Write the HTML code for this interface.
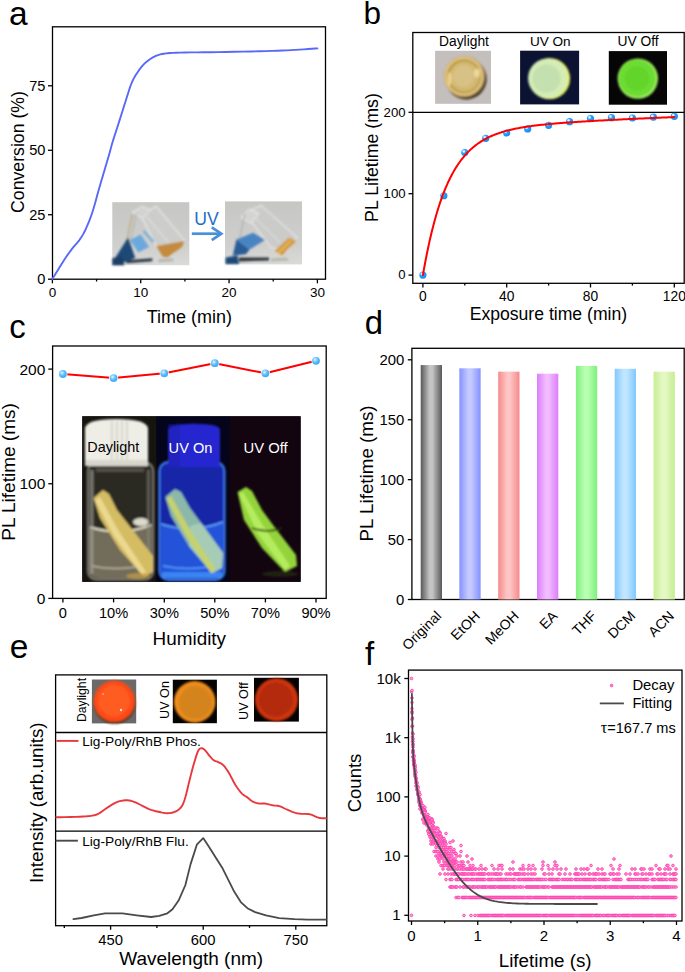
<!DOCTYPE html>
<html><head><meta charset="utf-8"><title>Figure</title>
<style>
html,body{margin:0;padding:0;background:#ffffff;}
body{width:685px;height:972px;overflow:hidden;}
svg{display:block;font-family:"Liberation Sans", sans-serif;}
</style></head><body>
<svg width="685" height="972" viewBox="0 0 685 972">
<rect width="685" height="972" fill="#ffffff"/>
<defs>
<filter id="bl1" x="-20%" y="-20%" width="140%" height="140%"><feGaussianBlur stdDeviation="1"/></filter>
<filter id="bl2" x="-30%" y="-30%" width="160%" height="160%"><feGaussianBlur stdDeviation="2"/></filter>
<filter id="bl3" x="-30%" y="-30%" width="160%" height="160%"><feGaussianBlur stdDeviation="3"/></filter>
<radialGradient id="mkb" cx="0.36" cy="0.33" r="0.62"><stop offset="0" stop-color="#ffffff"/><stop offset="0.2" stop-color="#c8e8ff"/><stop offset="0.42" stop-color="#2aa2ff"/><stop offset="1" stop-color="#168ef6"/></radialGradient>
<radialGradient id="mkc" cx="0.38" cy="0.35" r="0.6"><stop offset="0" stop-color="#e8f6ff"/><stop offset="0.35" stop-color="#8ed2ff"/><stop offset="0.7" stop-color="#4fb6fb"/><stop offset="1" stop-color="#46aef5"/></radialGradient>
<linearGradient id="bar0" x1="0" x2="1" y1="0" y2="0"><stop offset="0" stop-color="#585858"/><stop offset="0.42" stop-color="#c4c4c4"/><stop offset="0.55" stop-color="#c4c4c4"/><stop offset="1" stop-color="#585858"/></linearGradient>
<linearGradient id="bar1" x1="0" x2="1" y1="0" y2="0"><stop offset="0" stop-color="#8592ff"/><stop offset="0.42" stop-color="#c4caff"/><stop offset="0.55" stop-color="#c4caff"/><stop offset="1" stop-color="#8592ff"/></linearGradient>
<linearGradient id="bar2" x1="0" x2="1" y1="0" y2="0"><stop offset="0" stop-color="#f68a8a"/><stop offset="0.42" stop-color="#ffc6c6"/><stop offset="0.55" stop-color="#ffc6c6"/><stop offset="1" stop-color="#f68a8a"/></linearGradient>
<linearGradient id="bar3" x1="0" x2="1" y1="0" y2="0"><stop offset="0" stop-color="#dd7efc"/><stop offset="0.42" stop-color="#f2bcff"/><stop offset="0.55" stop-color="#f2bcff"/><stop offset="1" stop-color="#dd7efc"/></linearGradient>
<linearGradient id="bar4" x1="0" x2="1" y1="0" y2="0"><stop offset="0" stop-color="#7ef07e"/><stop offset="0.42" stop-color="#b8ffb0"/><stop offset="0.55" stop-color="#b8ffb0"/><stop offset="1" stop-color="#7ef07e"/></linearGradient>
<linearGradient id="bar5" x1="0" x2="1" y1="0" y2="0"><stop offset="0" stop-color="#80c8fc"/><stop offset="0.42" stop-color="#c0e6ff"/><stop offset="0.55" stop-color="#c0e6ff"/><stop offset="1" stop-color="#80c8fc"/></linearGradient>
<linearGradient id="bar6" x1="0" x2="1" y1="0" y2="0"><stop offset="0" stop-color="#c6ee92"/><stop offset="0.42" stop-color="#e4f8c4"/><stop offset="0.55" stop-color="#e4f8c4"/><stop offset="1" stop-color="#c6ee92"/></linearGradient>
</defs>
<text x="9.00" y="25.00" font-size="33.5" text-anchor="start" fill="#000" >a</text>
<g transform="translate(112.3,202.2)">
<defs><linearGradient id="pga0" x1="0" y1="0" x2="0" y2="1"><stop offset="0" stop-color="#c6c6c4"/><stop offset="0.7" stop-color="#cfcfcd"/><stop offset="1" stop-color="#dadad8"/></linearGradient></defs>
<rect width="77" height="63" fill="url(#pga0)"/>
<g filter="url(#bl1)">
<polygon points="28,12 44,4 72,38 60,52 44,44" fill="#cdcdcb" stroke="#e8e8e6" stroke-width="1.2"/>
<polyline points="34,14 56,40 M40,10 62,36 M46,8 68,34" fill="none" stroke="#ececea" stroke-width="0.8"/>
<polygon points="20,10 30,4 38,8 30,16" fill="#d2d2d0" stroke="#ececea" stroke-width="1"/>
<polyline points="12,52 20,12" stroke="#b8a46a" stroke-width="1.1" fill="none"/>
<polyline points="16,50 24,11" stroke="#a8a8a0" stroke-width="0.9" fill="none"/>
<polygon points="1.4,58 15.8,35.3 23,55.7 12,60" fill="#1d4a76"/>
<polygon points="0,56 10,54 12,63 0,63" fill="#1a3e66"/>
<polygon points="14,58 40,56 40,59 14,61" fill="#2a3848"/>
<polygon points="17.6,37.7 28.4,32.3 36.8,44.9 26,50.3" fill="#6aa8de"/>
<polygon points="30.2,29.3 32.6,28.1 42.1,38.9 40.3,40.7" fill="#78b0dc"/>
<polygon points="44,43.7 72.1,38.9 69.7,44.9 55.3,55.1 50.5,54.5" fill="#c48a3e"/>
<polygon points="46,57 60,56 62,59 46,60" fill="#b8b8b0"/>
</g>
</g>
<g transform="translate(225.0,201.4)">
<defs><linearGradient id="pga1" x1="0" y1="0" x2="0" y2="1"><stop offset="0" stop-color="#c6c6c4"/><stop offset="0.7" stop-color="#cfcfcd"/><stop offset="1" stop-color="#dadad8"/></linearGradient></defs>
<rect width="77" height="63" fill="url(#pga1)"/>
<g filter="url(#bl1)">
<polygon points="20,12 36,4 72,36 62,50 46,46" fill="#cbcbc9" stroke="#e6e6e4" stroke-width="1.2"/>
<polyline points="28,14 56,42 M34,10 62,38 M40,8 68,34" fill="none" stroke="#eaeae8" stroke-width="0.8"/>
<polygon points="16,16 24,8 34,12 26,22" fill="#d4d4d2" stroke="#eeeeec" stroke-width="1"/>
<polyline points="15,36 20,12" stroke="#a8a8a0" stroke-width="1" fill="none"/>
<polygon points="11.4,38 28.1,31.4 40.1,38.5 24.5,48.1" fill="#4a84c2"/>
<polygon points="7.8,54.1 11.4,38 24.5,48.1 20.9,52.9" fill="#2a5c96"/>
<polygon points="0.6,56 12.6,54 14,62.5 0.6,62.5" fill="#1e4878"/>
<polygon points="14,56 44,56 44,59 14,60" fill="#30363e"/>
<polygon points="49.7,49.3 64.0,36.2 71.2,39.7 56.9,54.1" fill="#d49a40"/>
<polygon points="52,51 65,38.5 67,39.5 54,52.5" fill="#e2b45a"/>
<polygon points="46,57 62,56 64,59 46,60" fill="#b8b8b0"/>
</g>
</g>
<text x="206.40" y="225.00" font-size="17.6" text-anchor="middle" fill="#1b6ec2" >UV</text>
<line x1="191.80" y1="233.70" x2="220.00" y2="233.70" stroke="#4a8fd8" stroke-width="2.7"/>
<path d="M211.8,227.3 L221.3,233.7 L211.8,240.1" fill="none" stroke="#4a8fd8" stroke-width="2.7" stroke-linejoin="miter"/>
<rect x="52.50" y="26.80" width="273.00" height="252.40" fill="none" stroke="#000" stroke-width="1.3"/>
<line x1="48.00" y1="279.20" x2="52.50" y2="279.20" stroke="#000" stroke-width="1.3"/>
<text x="45.40" y="284.30" font-size="14.6" text-anchor="end" fill="#000" >0</text>
<line x1="48.00" y1="214.73" x2="52.50" y2="214.73" stroke="#000" stroke-width="1.3"/>
<text x="45.40" y="219.83" font-size="14.6" text-anchor="end" fill="#000" >25</text>
<line x1="48.00" y1="150.27" x2="52.50" y2="150.27" stroke="#000" stroke-width="1.3"/>
<text x="45.40" y="155.37" font-size="14.6" text-anchor="end" fill="#000" >50</text>
<line x1="48.00" y1="85.80" x2="52.50" y2="85.80" stroke="#000" stroke-width="1.3"/>
<text x="45.40" y="90.90" font-size="14.6" text-anchor="end" fill="#000" >75</text>
<line x1="52.40" y1="279.20" x2="52.40" y2="283.30" stroke="#000" stroke-width="1.3"/>
<text x="52.40" y="296.80" font-size="13.5" text-anchor="middle" fill="#000" >0</text>
<line x1="140.73" y1="279.20" x2="140.73" y2="283.30" stroke="#000" stroke-width="1.3"/>
<text x="140.73" y="296.80" font-size="13.5" text-anchor="middle" fill="#000" >10</text>
<line x1="229.07" y1="279.20" x2="229.07" y2="283.30" stroke="#000" stroke-width="1.3"/>
<text x="229.07" y="296.80" font-size="13.5" text-anchor="middle" fill="#000" >20</text>
<line x1="317.40" y1="279.20" x2="317.40" y2="283.30" stroke="#000" stroke-width="1.3"/>
<text x="317.40" y="296.80" font-size="13.5" text-anchor="middle" fill="#000" >30</text>
<line x1="96.57" y1="279.20" x2="96.57" y2="281.50" stroke="#000" stroke-width="1.3"/>
<line x1="184.90" y1="279.20" x2="184.90" y2="281.50" stroke="#000" stroke-width="1.3"/>
<line x1="273.23" y1="279.20" x2="273.23" y2="281.50" stroke="#000" stroke-width="1.3"/>
<text transform="translate(24.30,152.00) rotate(-90)" font-size="17.7" text-anchor="middle" fill="#000">Conversion (%)</text>
<text x="189.30" y="322.70" font-size="18" text-anchor="middle" fill="#000" >Time (min)</text>
<path d="M52.30,279.00 L52.94,277.97 L53.82,276.57 L54.86,274.89 L56.00,273.07 L57.17,271.20 L58.30,269.40 L59.41,267.62 L60.56,265.76 L61.74,263.86 L62.94,261.95 L64.13,260.09 L65.30,258.30 L66.45,256.59 L67.60,254.91 L68.75,253.28 L69.90,251.68 L71.05,250.12 L72.20,248.60 L73.38,247.14 L74.58,245.76 L75.79,244.41 L76.97,243.07 L78.12,241.71 L79.20,240.30 L80.20,238.89 L81.14,237.51 L82.04,236.11 L82.91,234.64 L83.79,233.05 L84.70,231.30 L85.64,229.33 L86.61,227.19 L87.59,224.92 L88.54,222.60 L89.45,220.31 L90.30,218.10 L91.07,216.01 L91.77,213.99 L92.44,211.98 L93.08,209.95 L93.73,207.84 L94.40,205.60 L95.09,203.23 L95.77,200.76 L96.45,198.21 L97.14,195.61 L97.86,192.96 L98.60,190.30 L99.36,187.65 L100.13,185.00 L100.92,182.31 L101.74,179.54 L102.60,176.65 L103.50,173.60 L104.50,170.22 L105.59,166.50 L106.72,162.66 L107.83,158.91 L108.84,155.45 L109.70,152.50 L110.33,150.26 L110.77,148.60 L111.12,147.24 L111.47,145.88 L111.93,144.23 L112.60,142.00 L113.50,139.12 L114.56,135.80 L115.72,132.20 L116.93,128.45 L118.15,124.70 L119.30,121.10 L120.42,117.57 L121.54,113.99 L122.66,110.41 L123.77,106.89 L124.85,103.46 L125.90,100.20 L126.90,97.05 L127.87,93.97 L128.81,90.99 L129.73,88.16 L130.66,85.52 L131.60,83.10 L132.53,80.97 L133.43,79.10 L134.33,77.42 L135.26,75.85 L136.24,74.30 L137.30,72.70 L138.43,71.03 L139.62,69.36 L140.86,67.71 L142.16,66.12 L143.50,64.61 L144.90,63.20 L146.37,61.89 L147.93,60.65 L149.53,59.49 L151.16,58.42 L152.79,57.45 L154.40,56.60 L155.91,55.88 L157.32,55.29 L158.74,54.81 L160.24,54.40 L161.93,54.04 L163.90,53.70 L165.95,53.41 L167.96,53.18 L170.16,53.00 L172.75,52.86 L175.96,52.73 L180.00,52.60 L184.97,52.49 L190.73,52.41 L197.10,52.34 L203.91,52.28 L211.00,52.21 L218.20,52.10 L225.87,51.96 L234.21,51.81 L242.83,51.64 L251.32,51.47 L259.28,51.28 L266.30,51.10 L272.31,50.92 L277.60,50.73 L282.37,50.53 L286.77,50.33 L290.99,50.12 L295.20,49.90 L299.54,49.65 L303.92,49.37 L308.11,49.07 L311.89,48.80 L315.06,48.57 L317.40,48.40" fill="none" stroke="#5868f8" stroke-width="1.9" stroke-linejoin="round" stroke-linecap="round" />
<text x="363.50" y="24.10" font-size="31.5" text-anchor="start" fill="#000" >b</text>
<rect x="412.80" y="32.50" width="271.40" height="250.80" fill="none" stroke="#000" stroke-width="1.3"/>
<line x1="412.80" y1="112.30" x2="684.20" y2="112.30" stroke="#000" stroke-width="1.3"/>
<line x1="408.50" y1="275.10" x2="412.80" y2="275.10" stroke="#000" stroke-width="1.3"/>
<text x="405.60" y="279.30" font-size="13.2" text-anchor="end" fill="#000" >0</text>
<line x1="408.50" y1="193.70" x2="412.80" y2="193.70" stroke="#000" stroke-width="1.3"/>
<text x="405.60" y="197.90" font-size="13.2" text-anchor="end" fill="#000" >100</text>
<line x1="408.50" y1="112.30" x2="412.80" y2="112.30" stroke="#000" stroke-width="1.3"/>
<text x="405.60" y="116.50" font-size="13.2" text-anchor="end" fill="#000" >200</text>
<line x1="422.90" y1="283.30" x2="422.90" y2="287.50" stroke="#000" stroke-width="1.3"/>
<text x="422.90" y="301.20" font-size="13.8" text-anchor="middle" fill="#000" >0</text>
<line x1="506.70" y1="283.30" x2="506.70" y2="287.50" stroke="#000" stroke-width="1.3"/>
<text x="506.70" y="301.20" font-size="13.8" text-anchor="middle" fill="#000" >40</text>
<line x1="590.50" y1="283.30" x2="590.50" y2="287.50" stroke="#000" stroke-width="1.3"/>
<text x="590.50" y="301.20" font-size="13.8" text-anchor="middle" fill="#000" >80</text>
<line x1="674.30" y1="283.30" x2="674.30" y2="287.50" stroke="#000" stroke-width="1.3"/>
<text x="674.30" y="301.20" font-size="13.8" text-anchor="middle" fill="#000" >120</text>
<line x1="464.80" y1="283.30" x2="464.80" y2="285.60" stroke="#000" stroke-width="1.3"/>
<line x1="548.60" y1="283.30" x2="548.60" y2="285.60" stroke="#000" stroke-width="1.3"/>
<line x1="632.40" y1="283.30" x2="632.40" y2="285.60" stroke="#000" stroke-width="1.3"/>
<text transform="translate(377.90,157.50) rotate(-90)" font-size="17.8" text-anchor="middle" fill="#000">PL Lifetime (ms)</text>
<text x="548.40" y="319.70" font-size="17.6" text-anchor="middle" fill="#000" >Exposure time (min)</text>
<text x="464.00" y="46.30" font-size="13.8" text-anchor="middle" fill="#000" >Daylight</text>
<text x="550.30" y="46.30" font-size="13.6" text-anchor="middle" fill="#000" >UV On</text>
<text x="638.00" y="46.30" font-size="13.8" text-anchor="middle" fill="#000" >UV Off</text>
<rect x="435.1" y="50.8" width="55.9" height="53" fill="#c4bebd"/>
<g filter="url(#bl1)"><circle cx="466.2" cy="79" r="20.4" fill="#2e2010" opacity="0.85"/>
<circle cx="464.2" cy="76.5" r="20.3" fill="#c9a656"/><circle cx="463.8" cy="76.3" r="18.3" fill="none" stroke="#e6cc8c" stroke-width="1.6"/><circle cx="464.4" cy="76.6" r="15.8" fill="#d2b870" stroke="#b8964a" stroke-width="1.3"/><circle cx="463.5" cy="76" r="11" fill="#d8c184"/>
<ellipse cx="449.5" cy="79" rx="2" ry="7" fill="#f2dc98" opacity="0.8"/><ellipse cx="477" cy="73" rx="3" ry="4.5" fill="#f2dea4" opacity="0.8"/></g>
<rect x="520.1" y="50.7" width="59" height="53.7" fill="#0c1232"/>
<g filter="url(#bl1)"><circle cx="549.5" cy="78.6" r="20.6" fill="#e6f060"/><circle cx="547.8" cy="78.2" r="19.8" fill="#d4ecb6"/><circle cx="546.5" cy="78.5" r="14" fill="#c4e0ae"/></g>
<rect x="608.8" y="51.1" width="58.2" height="53.6" fill="#060606"/>
<g filter="url(#bl1)"><circle cx="637.8" cy="78.6" r="20.2" fill="#a0f060"/><circle cx="637.2" cy="78.2" r="18.5" fill="#6cdc30"/><circle cx="637" cy="78.5" r="12" fill="#62d42a"/></g>
<circle cx="422.90" cy="275.10" r="3.6" fill="url(#mkb)"/>
<circle cx="443.85" cy="195.74" r="3.6" fill="url(#mkb)"/>
<circle cx="464.80" cy="152.59" r="3.6" fill="url(#mkb)"/>
<circle cx="485.75" cy="138.35" r="3.6" fill="url(#mkb)"/>
<circle cx="506.70" cy="132.98" r="3.6" fill="url(#mkb)"/>
<circle cx="527.65" cy="128.91" r="3.6" fill="url(#mkb)"/>
<circle cx="548.60" cy="125.32" r="3.6" fill="url(#mkb)"/>
<circle cx="569.55" cy="121.66" r="3.6" fill="url(#mkb)"/>
<circle cx="590.50" cy="118.57" r="3.6" fill="url(#mkb)"/>
<circle cx="611.45" cy="117.67" r="3.6" fill="url(#mkb)"/>
<circle cx="632.40" cy="118.00" r="3.6" fill="url(#mkb)"/>
<circle cx="653.35" cy="117.18" r="3.6" fill="url(#mkb)"/>
<circle cx="674.30" cy="116.37" r="3.6" fill="url(#mkb)"/>
<path d="M422.90,275.10 L423.95,269.16 L425.00,263.46 L426.04,257.99 L427.09,252.74 L428.14,247.70 L429.19,242.86 L430.23,238.22 L431.28,233.76 L432.33,229.48 L433.38,225.38 L434.42,221.44 L435.47,217.65 L436.52,214.02 L437.56,210.53 L438.61,207.18 L439.66,203.97 L440.71,200.88 L441.75,197.92 L442.80,195.08 L443.85,192.34 L444.90,189.72 L445.94,187.20 L446.99,184.78 L448.04,182.46 L449.09,180.23 L450.13,178.08 L451.18,176.02 L452.23,174.04 L453.28,172.14 L454.32,170.32 L455.37,168.57 L456.42,166.88 L457.47,165.26 L458.51,163.70 L459.56,162.21 L460.61,160.77 L461.66,159.39 L462.70,158.06 L463.75,156.79 L464.80,155.56 L465.85,154.38 L466.89,153.24 L467.94,152.15 L468.99,151.10 L470.04,150.09 L471.08,149.12 L472.13,148.19 L473.18,147.29 L474.23,146.43 L475.27,145.59 L476.32,144.79 L477.37,144.02 L478.42,143.28 L479.46,142.56 L480.51,141.88 L481.56,141.21 L482.61,140.57 L483.65,139.96 L484.70,139.37 L485.75,138.80 L486.80,138.25 L487.84,137.71 L488.89,137.20 L489.94,136.71 L490.99,136.23 L492.03,135.77 L493.08,135.33 L494.13,134.90 L495.18,134.49 L496.22,134.09 L497.27,133.71 L498.32,133.34 L499.37,132.98 L500.41,132.63 L501.46,132.29 L502.51,131.97 L503.56,131.66 L504.60,131.35 L505.65,131.06 L506.70,130.78 L507.75,130.50 L508.79,130.23 L509.84,129.98 L510.89,129.73 L511.94,129.48 L512.99,129.25 L514.03,129.02 L515.08,128.80 L516.13,128.59 L517.17,128.38 L518.22,128.18 L519.27,127.98 L520.32,127.79 L521.37,127.60 L522.41,127.42 L523.46,127.25 L524.51,127.08 L525.55,126.91 L526.60,126.75 L527.65,126.59 L528.70,126.44 L529.75,126.29 L530.79,126.15 L531.84,126.00 L532.89,125.86 L533.93,125.73 L534.98,125.60 L536.03,125.47 L537.08,125.34 L538.12,125.22 L539.17,125.10 L540.22,124.98 L541.27,124.86 L542.31,124.75 L543.36,124.64 L544.41,124.53 L545.46,124.42 L546.50,124.32 L547.55,124.22 L548.60,124.12 L549.65,124.02 L550.69,123.92 L551.74,123.83 L552.79,123.73 L553.84,123.64 L554.88,123.55 L555.93,123.46 L556.98,123.37 L558.03,123.29 L559.07,123.20 L560.12,123.12 L561.17,123.04 L562.22,122.95 L563.26,122.87 L564.31,122.80 L565.36,122.72 L566.41,122.64 L567.45,122.56 L568.50,122.49 L569.55,122.41 L570.60,122.34 L571.64,122.27 L572.69,122.20 L573.74,122.13 L574.79,122.06 L575.83,121.99 L576.88,121.92 L577.93,121.85 L578.98,121.78 L580.02,121.72 L581.07,121.65 L582.12,121.59 L583.17,121.52 L584.21,121.46 L585.26,121.39 L586.31,121.33 L587.36,121.27 L588.40,121.21 L589.45,121.14 L590.50,121.08 L591.55,121.02 L592.60,120.96 L593.64,120.90 L594.69,120.84 L595.74,120.78 L596.78,120.73 L597.83,120.67 L598.88,120.61 L599.93,120.55 L600.97,120.50 L602.02,120.44 L603.07,120.38 L604.12,120.33 L605.16,120.27 L606.21,120.22 L607.26,120.16 L608.31,120.11 L609.36,120.05 L610.40,120.00 L611.45,119.94 L612.50,119.89 L613.54,119.84 L614.59,119.78 L615.64,119.73 L616.69,119.68 L617.73,119.63 L618.78,119.57 L619.83,119.52 L620.88,119.47 L621.92,119.42 L622.97,119.37 L624.02,119.32 L625.07,119.27 L626.12,119.22 L627.16,119.16 L628.21,119.11 L629.26,119.06 L630.30,119.02 L631.35,118.97 L632.40,118.92 L633.45,118.87 L634.49,118.82 L635.54,118.77 L636.59,118.72 L637.64,118.67 L638.68,118.62 L639.73,118.58 L640.78,118.53 L641.83,118.48 L642.88,118.43 L643.92,118.39 L644.97,118.34 L646.02,118.29 L647.06,118.24 L648.11,118.20 L649.16,118.15 L650.21,118.10 L651.25,118.06 L652.30,118.01 L653.35,117.97 L654.40,117.92 L655.44,117.87 L656.49,117.83 L657.54,117.78 L658.59,117.74 L659.63,117.69 L660.68,117.65 L661.73,117.60 L662.78,117.56 L663.82,117.51 L664.87,117.47 L665.92,117.43 L666.97,117.38 L668.01,117.34 L669.06,117.29 L670.11,117.25 L671.16,117.21 L672.20,117.16 L673.25,117.12 L674.30,117.08" fill="none" stroke="#ff0000" stroke-width="2.0" stroke-linejoin="round" stroke-linecap="round" />
<text x="9.30" y="338.00" font-size="33" text-anchor="start" fill="#000" >c</text>
<rect x="52.60" y="346.00" width="273.60" height="252.40" fill="none" stroke="#000" stroke-width="1.3"/>
<line x1="48.30" y1="598.40" x2="52.60" y2="598.40" stroke="#000" stroke-width="1.3"/>
<text x="45.30" y="603.80" font-size="15.5" text-anchor="end" fill="#000" >0</text>
<line x1="48.30" y1="483.75" x2="52.60" y2="483.75" stroke="#000" stroke-width="1.3"/>
<text x="45.30" y="489.15" font-size="15.5" text-anchor="end" fill="#000" >100</text>
<line x1="48.30" y1="369.10" x2="52.60" y2="369.10" stroke="#000" stroke-width="1.3"/>
<text x="45.30" y="374.50" font-size="15.5" text-anchor="end" fill="#000" >200</text>
<line x1="62.90" y1="598.40" x2="62.90" y2="602.40" stroke="#000" stroke-width="1.3"/>
<text x="62.90" y="617.90" font-size="14.6" text-anchor="middle" fill="#000" >0</text>
<line x1="113.60" y1="598.40" x2="113.60" y2="602.40" stroke="#000" stroke-width="1.3"/>
<text x="113.60" y="617.90" font-size="14.6" text-anchor="middle" fill="#000" >10%</text>
<line x1="164.30" y1="598.40" x2="164.30" y2="602.40" stroke="#000" stroke-width="1.3"/>
<text x="164.30" y="617.90" font-size="14.6" text-anchor="middle" fill="#000" >30%</text>
<line x1="214.80" y1="598.40" x2="214.80" y2="602.40" stroke="#000" stroke-width="1.3"/>
<text x="214.80" y="617.90" font-size="14.6" text-anchor="middle" fill="#000" >50%</text>
<line x1="265.40" y1="598.40" x2="265.40" y2="602.40" stroke="#000" stroke-width="1.3"/>
<text x="265.40" y="617.90" font-size="14.6" text-anchor="middle" fill="#000" >70%</text>
<line x1="316.00" y1="598.40" x2="316.00" y2="602.40" stroke="#000" stroke-width="1.3"/>
<text x="316.00" y="617.90" font-size="14.6" text-anchor="middle" fill="#000" >90%</text>
<text transform="translate(14.60,472.00) rotate(-90)" font-size="19" text-anchor="middle" fill="#000">PL Lifetime (ms)</text>
<text x="189.30" y="644.50" font-size="18.9" text-anchor="middle" fill="#000" >Humidity</text>
<g>
<rect x="82.3" y="416.3" width="218.3" height="165.5" fill="#0c0810"/>
<rect x="82.3" y="416.3" width="74.5" height="165.5" fill="#16140f"/>
<rect x="156.3" y="416.3" width="73.8" height="165.5" fill="#04041a"/>
<rect x="229.6" y="416.3" width="71" height="165.5" fill="#120510"/>
<g filter="url(#bl1)">
<rect x="87.7" y="462" width="65.7" height="118" rx="9" fill="#2c2a24" stroke="#8a8880" stroke-width="1.6"/>
<path d="M89,527 Q120,536 152,524 L152,570 Q150,579 140,579 L100,579 Q90,579 89,570 Z" fill="#726c5a"/>
<path d="M90,527 Q120,537 151,525" fill="none" stroke="#e0dcc8" stroke-width="2"/>
<path d="M92,566 Q120,572 148,564" fill="none" stroke="#b8b4a0" stroke-width="1.4"/>
<ellipse cx="141" cy="522" rx="8" ry="4" fill="#f0ece0" opacity="0.9"/>
<rect x="90" y="470" width="3.5" height="104" fill="#a8a69e" opacity="0.6"/>
<rect x="147" y="470" width="3" height="104" fill="#8a8880" opacity="0.5"/>
<rect x="96" y="468" width="48" height="4" fill="#6a6860" opacity="0.6"/>
<polygon points="93.5,498 103,490 109,494 117,510 128,524 153,556 153,572 144,577 120,550 100,518" fill="#d4bc64"/>
<polygon points="95,500 100,497 118,530 146,572 142,575 114,536" fill="#ecd890"/>
<ellipse cx="138" cy="576" rx="12" ry="3" fill="#c8a040" opacity="0.7"/>
<path d="M85,429 Q85,419 116,419 Q148,419 148,429 L148,466 L85,466 Z" fill="#eeede6"/>
<path d="M112,421 L112,464 M117,421 L117,464 M122,421 L122,464 M127,421 L127,464" stroke="#d2d2c8" stroke-width="1.6"/>
<rect x="85" y="460" width="63" height="6" fill="#d8d6cc"/>
</g>
<g filter="url(#bl1)">
<rect x="159.3" y="462" width="65.2" height="118" rx="9" fill="#1428a6" stroke="#4080f4" stroke-width="2"/>
<path d="M161,524 Q192,533 223,522 L223,570 Q221,578 212,578 L170,578 Q161,578 161,570 Z" fill="#2452d8"/>
<path d="M161,524 Q192,534 223,522" fill="none" stroke="#60a8ff" stroke-width="1.8"/>
<path d="M163,566 Q192,572 221,564" fill="none" stroke="#5aa0ff" stroke-width="1.5"/>
<rect x="162" y="572" width="60" height="6" fill="#3a84f4"/>
<polygon points="165.4,497 175,489 181,492 190,508 201,523 223,553 222,568 212,573 189,546 171,516" fill="#8cb8aa"/>
<polygon points="190,526 201,523 223,553 222,568 212,573 189,546" fill="#a6ccb6"/>
<polygon points="166.5,499 171,496 190,530 216,570 211,573 186,536" fill="#c6d26c"/>
<path d="M168,430 Q168,423.7 194,423.7 Q220,423.7 220,430 L220,467 L168,467 Z" fill="#2626d0"/>
<rect x="168" y="424" width="12" height="43" fill="#1c1cae" opacity="0.5"/>
</g>
<g filter="url(#bl1)">
<polygon points="237.5,492 246,487 252,491 262,510 273,525 296,555 297,566 285,572 262,548 244,520" fill="#94d43a"/>
<polygon points="239,494 243,492 262,524 290,566 285,570 258,534" fill="#b4ec5e"/>
<path d="M252,528 Q268,534 282,528" fill="none" stroke="#20300a" stroke-width="1.5"/>
<ellipse cx="280" cy="574" rx="18" ry="3" fill="#2a3014" opacity="0.6"/>
</g>
<text x="113.30" y="451.60" font-size="14.4" text-anchor="middle" fill="#000" >Daylight</text>
<text x="190.50" y="452.80" font-size="14.6" text-anchor="middle" fill="#ffffff" >UV On</text>
<text x="265.60" y="452.60" font-size="14.8" text-anchor="middle" fill="#ffffff" >UV Off</text>
</g>
<path d="M62.90,374.00 L113.60,378.10 L164.30,373.30 L214.80,363.20 L265.40,373.30 L316.00,360.80" fill="none" stroke="#ff0000" stroke-width="2.0" stroke-linejoin="round" stroke-linecap="round" />
<circle cx="62.90" cy="374.00" r="4.6" fill="#ffffff"/>
<circle cx="62.90" cy="374.00" r="3.9" fill="url(#mkc)"/>
<circle cx="113.60" cy="378.10" r="4.6" fill="#ffffff"/>
<circle cx="113.60" cy="378.10" r="3.9" fill="url(#mkc)"/>
<circle cx="164.30" cy="373.30" r="4.6" fill="#ffffff"/>
<circle cx="164.30" cy="373.30" r="3.9" fill="url(#mkc)"/>
<circle cx="214.80" cy="363.20" r="4.6" fill="#ffffff"/>
<circle cx="214.80" cy="363.20" r="3.9" fill="url(#mkc)"/>
<circle cx="265.40" cy="373.30" r="4.6" fill="#ffffff"/>
<circle cx="265.40" cy="373.30" r="3.9" fill="url(#mkc)"/>
<circle cx="316.00" cy="360.80" r="4.6" fill="#ffffff"/>
<circle cx="316.00" cy="360.80" r="3.9" fill="url(#mkc)"/>
<text x="364.80" y="334.00" font-size="32.8" text-anchor="start" fill="#000" >d</text>
<rect x="411.90" y="348.30" width="272.30" height="251.20" fill="none" stroke="#000" stroke-width="1.3"/>
<line x1="407.80" y1="599.50" x2="411.90" y2="599.50" stroke="#000" stroke-width="1.3"/>
<text x="404.30" y="604.70" font-size="14.9" text-anchor="end" fill="#000" >0</text>
<line x1="407.80" y1="539.58" x2="411.90" y2="539.58" stroke="#000" stroke-width="1.3"/>
<text x="404.30" y="544.78" font-size="14.9" text-anchor="end" fill="#000" >50</text>
<line x1="407.80" y1="479.65" x2="411.90" y2="479.65" stroke="#000" stroke-width="1.3"/>
<text x="404.30" y="484.85" font-size="14.9" text-anchor="end" fill="#000" >100</text>
<line x1="407.80" y1="419.73" x2="411.90" y2="419.73" stroke="#000" stroke-width="1.3"/>
<text x="404.30" y="424.93" font-size="14.9" text-anchor="end" fill="#000" >150</text>
<line x1="407.80" y1="359.80" x2="411.90" y2="359.80" stroke="#000" stroke-width="1.3"/>
<text x="404.30" y="365.00" font-size="14.9" text-anchor="end" fill="#000" >200</text>
<rect x="420.70" y="365.07" width="21.3" height="234.43" fill="url(#bar0)"/>
<rect x="459.35" y="368.31" width="21.3" height="231.19" fill="url(#bar1)"/>
<rect x="498.20" y="371.67" width="21.3" height="227.83" fill="url(#bar2)"/>
<rect x="537.00" y="373.70" width="21.3" height="225.80" fill="url(#bar3)"/>
<rect x="575.90" y="365.91" width="21.3" height="233.59" fill="url(#bar4)"/>
<rect x="614.70" y="368.79" width="21.3" height="230.71" fill="url(#bar5)"/>
<rect x="653.55" y="371.67" width="21.3" height="227.83" fill="url(#bar6)"/>
<text transform="translate(372.70,473.40) rotate(-90)" font-size="18.8" text-anchor="middle" fill="#000">PL Lifetime (ms)</text>
<text transform="translate(442.15,616.80) rotate(-45)" font-size="14" text-anchor="end">Original</text>
<text transform="translate(480.80,616.80) rotate(-45)" font-size="14" text-anchor="end">EtOH</text>
<text transform="translate(519.65,616.80) rotate(-45)" font-size="14" text-anchor="end">MeOH</text>
<text transform="translate(558.45,616.80) rotate(-45)" font-size="14" text-anchor="end">EA</text>
<text transform="translate(597.35,616.80) rotate(-45)" font-size="14" text-anchor="end">THF</text>
<text transform="translate(636.15,616.80) rotate(-45)" font-size="14" text-anchor="end">DCM</text>
<text transform="translate(675.00,616.80) rotate(-45)" font-size="14" text-anchor="end">ACN</text>
<text x="9.80" y="657.60" font-size="33.5" text-anchor="start" fill="#000" >e</text>
<rect x="55.60" y="674.90" width="271.20" height="250.80" fill="none" stroke="#000" stroke-width="1.3"/>
<line x1="55.60" y1="732.50" x2="326.80" y2="732.50" stroke="#000" stroke-width="1.3"/>
<line x1="55.60" y1="831.10" x2="326.80" y2="831.10" stroke="#000" stroke-width="1.3"/>
<line x1="110.60" y1="925.70" x2="110.60" y2="929.80" stroke="#000" stroke-width="1.3"/>
<text x="110.60" y="945.20" font-size="14.8" text-anchor="middle" fill="#000" >450</text>
<line x1="203.20" y1="925.70" x2="203.20" y2="929.80" stroke="#000" stroke-width="1.3"/>
<text x="203.20" y="945.20" font-size="14.8" text-anchor="middle" fill="#000" >600</text>
<line x1="295.80" y1="925.70" x2="295.80" y2="929.80" stroke="#000" stroke-width="1.3"/>
<text x="295.80" y="945.20" font-size="14.8" text-anchor="middle" fill="#000" >750</text>
<line x1="64.30" y1="925.70" x2="64.30" y2="927.90" stroke="#000" stroke-width="1.3"/>
<line x1="156.90" y1="925.70" x2="156.90" y2="927.90" stroke="#000" stroke-width="1.3"/>
<line x1="249.50" y1="925.70" x2="249.50" y2="927.90" stroke="#000" stroke-width="1.3"/>
<text transform="translate(42.80,802.70) rotate(-90)" font-size="18.9" text-anchor="middle" fill="#000">Intensity (arb.units)</text>
<text x="191.20" y="964.80" font-size="19" text-anchor="middle" fill="#000" >Wavelength (nm)</text>
<text transform="translate(86.20,700.00) rotate(-90)" font-size="12.2" text-anchor="middle" fill="#000">Daylight</text>
<text transform="translate(169.40,700.00) rotate(-90)" font-size="12.6" text-anchor="middle" fill="#000">UV On</text>
<text transform="translate(248.00,701.10) rotate(-90)" font-size="12.6" text-anchor="middle" fill="#000">UV Off</text>
<rect x="91.9" y="679.5" width="44.3" height="43.9" fill="#6c6a68"/>
<g filter="url(#bl1)"><circle cx="114.6" cy="703" r="21" fill="#401808" opacity="0.7"/><circle cx="114.3" cy="701.2" r="20.6" fill="#ff4a12"/><circle cx="114" cy="700.5" r="16" fill="#ff5c22"/></g>
<circle cx="121" cy="710" r="1.2" fill="#fff" opacity="0.8"/><circle cx="103" cy="694" r="0.8" fill="#fff" opacity="0.7"/>
<rect x="172.8" y="679.7" width="44.1" height="43.5" fill="#050403"/>
<g filter="url(#bl1)"><circle cx="194.7" cy="701.9" r="20.8" fill="#ec8c1c"/><circle cx="195.5" cy="702.5" r="16.5" fill="#d4841a"/></g>
<rect x="254" y="677.8" width="44.9" height="43.8" fill="#050202"/>
<g filter="url(#bl1)"><circle cx="276.5" cy="699.7" r="21.5" fill="#cc3410"/><circle cx="275.8" cy="699.5" r="17" fill="#b42a0a"/></g>
<line x1="56.40" y1="740.90" x2="78.50" y2="740.90" stroke="#e8383d" stroke-width="1.9"/>
<text x="82.20" y="745.60" font-size="13.7" text-anchor="start" fill="#000" >Lig-Poly/RhB Phos.</text>
<line x1="55.60" y1="840.70" x2="77.90" y2="840.70" stroke="#4a4a4a" stroke-width="1.9"/>
<text x="82.20" y="845.80" font-size="13.7" text-anchor="start" fill="#000" >Lig-Poly/RhB Flu.</text>
<path d="M56.30,817.30 L59.84,817.24 L64.96,817.16 L70.51,817.04 L75.40,816.90 L79.46,816.74 L83.23,816.55 L86.67,816.31 L89.70,816.00 L92.18,815.66 L94.18,815.29 L95.99,814.77 L97.90,814.00 L99.90,812.89 L101.88,811.51 L103.91,810.01 L106.10,808.50 L108.53,806.90 L111.14,805.18 L113.77,803.57 L116.30,802.30 L118.72,801.43 L121.09,800.85 L123.36,800.49 L125.50,800.30 L127.42,800.28 L129.17,800.44 L130.88,800.79 L132.70,801.30 L134.66,802.03 L136.69,802.96 L138.75,803.98 L140.80,805.00 L142.84,806.04 L144.89,807.13 L146.95,808.19 L149.00,809.10 L151.00,809.84 L152.97,810.45 L155.01,810.99 L157.20,811.50 L159.66,812.05 L162.30,812.61 L164.94,813.03 L167.40,813.20 L169.64,813.09 L171.76,812.78 L173.74,812.24 L175.60,811.50 L177.33,810.56 L178.93,809.43 L180.39,808.06 L181.70,806.40 L182.78,804.53 L183.67,802.44 L184.50,799.99 L185.40,797.00 L186.41,793.26 L187.47,788.91 L188.54,784.35 L189.60,780.00 L190.65,775.88 L191.69,771.81 L192.74,767.86 L193.80,764.10 L194.89,760.36 L196.01,756.67 L197.09,753.39 L198.10,750.90 L199.00,749.41 L199.81,748.67 L200.60,748.41 L201.40,748.30 L202.20,748.32 L202.98,748.60 L203.80,749.13 L204.70,749.90 L205.72,751.00 L206.83,752.40 L207.97,753.90 L209.10,755.30 L210.20,756.61 L211.31,757.92 L212.41,759.12 L213.50,760.10 L214.55,760.73 L215.58,761.09 L216.64,761.41 L217.80,761.90 L219.09,762.52 L220.48,763.19 L221.90,764.04 L223.30,765.20 L224.65,766.69 L225.98,768.45 L227.35,770.48 L228.80,772.80 L230.38,775.59 L232.04,778.78 L233.73,782.01 L235.40,784.90 L237.06,787.43 L238.72,789.77 L240.35,791.85 L241.90,793.60 L243.35,794.88 L244.71,795.77 L246.05,796.53 L247.40,797.40 L248.75,798.50 L250.09,799.67 L251.45,800.79 L252.90,801.70 L254.48,802.37 L256.15,802.87 L257.82,803.24 L259.40,803.50 L260.79,803.58 L262.07,803.50 L263.39,803.42 L264.90,803.50 L266.70,803.85 L268.68,804.35 L270.70,804.88 L272.60,805.30 L274.33,805.52 L275.98,805.63 L277.58,805.78 L279.20,806.10 L280.83,806.68 L282.45,807.43 L284.07,808.23 L285.70,809.00 L287.34,809.73 L288.99,810.47 L290.65,811.17 L292.30,811.80 L293.90,812.35 L295.47,812.85 L297.10,813.27 L298.90,813.60 L301.03,813.79 L303.39,813.86 L305.68,813.90 L307.60,814.00 L308.95,814.15 L309.93,814.30 L310.85,814.53 L312.00,814.90 L313.48,815.52 L315.11,816.31 L316.84,817.10 L318.60,817.70 L320.57,818.04 L322.71,818.23 L324.65,818.32 L326.00,818.40" fill="none" stroke="#e8383d" stroke-width="1.9" stroke-linejoin="round" stroke-linecap="round" />
<path d="M73.40,919.20 L81.60,918.00 L93.80,915.30 L105.10,913.30 L122.40,913.30 L136.70,915.30 L151.10,917.00 L159.20,915.90 L167.40,913.30 L172.50,909.20 L178.60,900.60 L185.40,885.00 L190.50,864.40 L197.00,844.30 L203.20,838.10 L209.10,846.90 L215.70,857.40 L222.20,867.70 L227.70,878.60 L234.30,891.80 L240.80,902.10 L247.40,908.20 L255.10,912.10 L266.00,915.40 L279.20,918.10 L294.50,919.20 L307.60,919.60 L326.00,919.60" fill="none" stroke="#4a4a4a" stroke-width="1.8" stroke-linejoin="round" stroke-linecap="round" />
<text x="364.90" y="664.50" font-size="33" text-anchor="start" fill="#000" >f</text>
<g fill="#ffa6d8" stroke="#ff3cae" stroke-width="0.85">
<circle cx="411.5" cy="678.5" r="1.35"/>
<circle cx="411.5" cy="915.3" r="1.35"/>
<circle cx="411.6" cy="691.6334459772883" r="1.35"/>
<circle cx="412" cy="690.5" r="1.35"/>
<circle cx="412" cy="698.0" r="1.35"/>
<circle cx="412.0" cy="702.5" r="1.35"/>
<circle cx="412" cy="708.5" r="1.35"/>
<circle cx="412.0" cy="711.5" r="1.35"/>
<circle cx="412" cy="713.0" r="1.35"/>
<circle cx="412" cy="719.5" r="1.35"/>
<circle cx="412" cy="726.5" r="1.35"/>
<circle cx="412.5" cy="718.0" r="1.35"/>
<circle cx="412.5" cy="726.0" r="1.35"/>
<circle cx="412.5" cy="733.0" r="1.35"/>
<circle cx="412.5" cy="737.0" r="1.35"/>
<circle cx="412.5" cy="741.5" r="1.35"/>
<circle cx="413" cy="734.0" r="1.35"/>
<circle cx="413" cy="739.0" r="1.35"/>
<circle cx="413" cy="741.5" r="1.35"/>
<circle cx="413" cy="744.0" r="1.35"/>
<circle cx="413.0" cy="745.0" r="1.35"/>
<circle cx="413" cy="747.0" r="1.35"/>
<circle cx="413" cy="750.0" r="1.35"/>
<circle cx="413.0" cy="751.0" r="1.35"/>
<circle cx="413.0" cy="752.0" r="1.35"/>
<circle cx="413" cy="752.5" r="1.35"/>
<circle cx="413.0" cy="753.0" r="1.35"/>
<circle cx="413" cy="756.5" r="1.35"/>
<circle cx="413" cy="757.0" r="1.35"/>
<circle cx="413.5" cy="756.5" r="1.35"/>
<circle cx="413.5" cy="758.0" r="1.35"/>
<circle cx="413.5" cy="760.5" r="1.35"/>
<circle cx="414" cy="755.5" r="1.35"/>
<circle cx="414" cy="756.5" r="1.35"/>
<circle cx="414" cy="759.5" r="1.35"/>
<circle cx="414" cy="760.5" r="1.35"/>
<circle cx="414" cy="761.0" r="1.35"/>
<circle cx="414.0" cy="761.5" r="1.35"/>
<circle cx="414" cy="762.5" r="1.35"/>
<circle cx="414.0" cy="763.0" r="1.35"/>
<circle cx="414" cy="764.0" r="1.35"/>
<circle cx="414" cy="764.5" r="1.35"/>
<circle cx="414" cy="765.0" r="1.35"/>
<circle cx="414.0" cy="765.5" r="1.35"/>
<circle cx="414.5" cy="765.5" r="1.35"/>
<circle cx="414.5" cy="766.0" r="1.35"/>
<circle cx="414.5" cy="767.5" r="1.35"/>
<circle cx="414.5" cy="768.5" r="1.35"/>
<circle cx="415" cy="765.0" r="1.35"/>
<circle cx="415" cy="767.0" r="1.35"/>
<circle cx="415" cy="767.5" r="1.35"/>
<circle cx="415" cy="769.5" r="1.35"/>
<circle cx="415.0" cy="770.0" r="1.35"/>
<circle cx="415" cy="771.0" r="1.35"/>
<circle cx="415.0" cy="772.0" r="1.35"/>
<circle cx="415" cy="773.5" r="1.35"/>
<circle cx="415.0" cy="774.0" r="1.35"/>
<circle cx="415" cy="774.5" r="1.35"/>
<circle cx="415.0" cy="776.0" r="1.35"/>
<circle cx="415.5" cy="775.5" r="1.35"/>
<circle cx="415.5" cy="777.0" r="1.35"/>
<circle cx="416" cy="772.5" r="1.35"/>
<circle cx="416" cy="778.0" r="1.35"/>
<circle cx="416" cy="778.5" r="1.35"/>
<circle cx="416" cy="779.0" r="1.35"/>
<circle cx="416" cy="781.0" r="1.35"/>
<circle cx="416" cy="783.0" r="1.35"/>
<circle cx="416" cy="786.0" r="1.35"/>
<circle cx="417" cy="782.5" r="1.35"/>
<circle cx="417" cy="783.0" r="1.35"/>
<circle cx="417" cy="785.5" r="1.35"/>
<circle cx="417" cy="787.5" r="1.35"/>
<circle cx="417" cy="789.0" r="1.35"/>
<circle cx="417" cy="790.0" r="1.35"/>
<circle cx="418" cy="786.5" r="1.35"/>
<circle cx="418" cy="788.0" r="1.35"/>
<circle cx="418" cy="790.5" r="1.35"/>
<circle cx="418" cy="793.0" r="1.35"/>
<circle cx="418" cy="793.5" r="1.35"/>
<circle cx="418" cy="794.5" r="1.35"/>
<circle cx="418" cy="795.0" r="1.35"/>
<circle cx="419" cy="792.0" r="1.35"/>
<circle cx="419" cy="795.0" r="1.35"/>
<circle cx="419" cy="795.5" r="1.35"/>
<circle cx="419" cy="797.5" r="1.35"/>
<circle cx="419" cy="798.0" r="1.35"/>
<circle cx="419" cy="799.5" r="1.35"/>
<circle cx="419" cy="801.0" r="1.35"/>
<circle cx="419" cy="802.5" r="1.35"/>
<circle cx="420" cy="794.5" r="1.35"/>
<circle cx="420" cy="799.0" r="1.35"/>
<circle cx="420" cy="799.5" r="1.35"/>
<circle cx="420" cy="800.0" r="1.35"/>
<circle cx="420" cy="802.5" r="1.35"/>
<circle cx="420" cy="804.5" r="1.35"/>
<circle cx="420" cy="805.5" r="1.35"/>
<circle cx="420" cy="806.0" r="1.35"/>
<circle cx="420" cy="809.0" r="1.35"/>
<circle cx="421" cy="801.5" r="1.35"/>
<circle cx="421" cy="802.5" r="1.35"/>
<circle cx="421" cy="803.5" r="1.35"/>
<circle cx="421" cy="804.5" r="1.35"/>
<circle cx="421" cy="805.0" r="1.35"/>
<circle cx="421" cy="805.5" r="1.35"/>
<circle cx="421" cy="807.0" r="1.35"/>
<circle cx="422" cy="806.0" r="1.35"/>
<circle cx="422" cy="807.5" r="1.35"/>
<circle cx="422" cy="808.0" r="1.35"/>
<circle cx="422" cy="809.5" r="1.35"/>
<circle cx="422" cy="811.5" r="1.35"/>
<circle cx="422" cy="813.0" r="1.35"/>
<circle cx="423" cy="805.5" r="1.35"/>
<circle cx="423" cy="808.5" r="1.35"/>
<circle cx="423" cy="809.0" r="1.35"/>
<circle cx="423" cy="809.5" r="1.35"/>
<circle cx="423" cy="812.5" r="1.35"/>
<circle cx="423" cy="813.0" r="1.35"/>
<circle cx="423" cy="819.0" r="1.35"/>
<circle cx="423" cy="820.0" r="1.35"/>
<circle cx="424" cy="810.0" r="1.35"/>
<circle cx="424" cy="812.0" r="1.35"/>
<circle cx="424" cy="812.5" r="1.35"/>
<circle cx="424" cy="813.5" r="1.35"/>
<circle cx="424" cy="815.0" r="1.35"/>
<circle cx="424" cy="816.0" r="1.35"/>
<circle cx="424" cy="823.0" r="1.35"/>
<circle cx="425" cy="807.5" r="1.35"/>
<circle cx="425" cy="810.5" r="1.35"/>
<circle cx="425" cy="811.0" r="1.35"/>
<circle cx="425" cy="812.0" r="1.35"/>
<circle cx="425" cy="812.5" r="1.35"/>
<circle cx="425" cy="816.0" r="1.35"/>
<circle cx="425" cy="817.5" r="1.35"/>
<circle cx="425" cy="818.5" r="1.35"/>
<circle cx="426" cy="816.5" r="1.35"/>
<circle cx="426" cy="817.5" r="1.35"/>
<circle cx="426" cy="818.0" r="1.35"/>
<circle cx="426" cy="818.5" r="1.35"/>
<circle cx="426" cy="819.0" r="1.35"/>
<circle cx="426" cy="821.0" r="1.35"/>
<circle cx="426" cy="822.5" r="1.35"/>
<circle cx="426" cy="823.0" r="1.35"/>
<circle cx="426" cy="824.0" r="1.35"/>
<circle cx="427" cy="820.0" r="1.35"/>
<circle cx="427" cy="820.5" r="1.35"/>
<circle cx="427" cy="821.0" r="1.35"/>
<circle cx="427" cy="822.0" r="1.35"/>
<circle cx="427" cy="822.5" r="1.35"/>
<circle cx="427" cy="823.0" r="1.35"/>
<circle cx="427" cy="824.0" r="1.35"/>
<circle cx="427" cy="825.5" r="1.35"/>
<circle cx="428" cy="814.5" r="1.35"/>
<circle cx="428" cy="817.0" r="1.35"/>
<circle cx="428" cy="818.5" r="1.35"/>
<circle cx="428" cy="820.0" r="1.35"/>
<circle cx="428" cy="821.0" r="1.35"/>
<circle cx="428" cy="822.5" r="1.35"/>
<circle cx="428" cy="830.5" r="1.35"/>
<circle cx="428" cy="831.5" r="1.35"/>
<circle cx="429" cy="818.0" r="1.35"/>
<circle cx="429" cy="820.0" r="1.35"/>
<circle cx="429" cy="820.5" r="1.35"/>
<circle cx="429" cy="821.0" r="1.35"/>
<circle cx="429" cy="822.0" r="1.35"/>
<circle cx="429" cy="828.0" r="1.35"/>
<circle cx="429" cy="828.5" r="1.35"/>
<circle cx="429" cy="833.5" r="1.35"/>
<circle cx="429" cy="834.5" r="1.35"/>
<circle cx="430" cy="818.0" r="1.35"/>
<circle cx="430" cy="822.5" r="1.35"/>
<circle cx="430" cy="824.0" r="1.35"/>
<circle cx="430" cy="828.5" r="1.35"/>
<circle cx="430" cy="829.5" r="1.35"/>
<circle cx="430" cy="831.5" r="1.35"/>
<circle cx="430" cy="837.0" r="1.35"/>
<circle cx="431" cy="822.0" r="1.35"/>
<circle cx="431" cy="828.0" r="1.35"/>
<circle cx="431" cy="832.5" r="1.35"/>
<circle cx="431" cy="833.5" r="1.35"/>
<circle cx="431" cy="838.5" r="1.35"/>
<circle cx="431" cy="841.0" r="1.35"/>
<circle cx="431" cy="844.0" r="1.35"/>
<circle cx="432" cy="819.0" r="1.35"/>
<circle cx="432" cy="820.0" r="1.35"/>
<circle cx="432" cy="823.0" r="1.35"/>
<circle cx="432" cy="824.5" r="1.35"/>
<circle cx="432" cy="828.0" r="1.35"/>
<circle cx="432" cy="834.5" r="1.35"/>
<circle cx="432" cy="836.0" r="1.35"/>
<circle cx="432" cy="839.5" r="1.35"/>
<circle cx="433" cy="822.0" r="1.35"/>
<circle cx="433" cy="823.0" r="1.35"/>
<circle cx="433" cy="826.0" r="1.35"/>
<circle cx="433" cy="828.0" r="1.35"/>
<circle cx="433" cy="830.5" r="1.35"/>
<circle cx="433" cy="833.5" r="1.35"/>
<circle cx="433" cy="834.5" r="1.35"/>
<circle cx="433" cy="841.0" r="1.35"/>
<circle cx="433" cy="844.0" r="1.35"/>
<circle cx="434" cy="827.0" r="1.35"/>
<circle cx="434" cy="828.0" r="1.35"/>
<circle cx="434" cy="830.5" r="1.35"/>
<circle cx="434" cy="839.5" r="1.35"/>
<circle cx="434" cy="841.0" r="1.35"/>
<circle cx="434" cy="842.5" r="1.35"/>
<circle cx="434" cy="851.5" r="1.35"/>
<circle cx="435" cy="830.5" r="1.35"/>
<circle cx="435" cy="832.5" r="1.35"/>
<circle cx="435" cy="833.5" r="1.35"/>
<circle cx="435" cy="834.5" r="1.35"/>
<circle cx="435" cy="842.5" r="1.35"/>
<circle cx="436" cy="836.0" r="1.35"/>
<circle cx="436" cy="841.0" r="1.35"/>
<circle cx="436" cy="842.5" r="1.35"/>
<circle cx="436" cy="844.0" r="1.35"/>
<circle cx="436" cy="847.5" r="1.35"/>
<circle cx="436" cy="851.5" r="1.35"/>
<circle cx="436" cy="856.0" r="1.35"/>
<circle cx="437" cy="828.0" r="1.35"/>
<circle cx="437" cy="833.5" r="1.35"/>
<circle cx="437" cy="836.0" r="1.35"/>
<circle cx="437" cy="841.0" r="1.35"/>
<circle cx="437" cy="845.5" r="1.35"/>
<circle cx="437" cy="851.5" r="1.35"/>
<circle cx="438" cy="828.5" r="1.35"/>
<circle cx="438" cy="836.0" r="1.35"/>
<circle cx="438" cy="839.5" r="1.35"/>
<circle cx="438" cy="842.5" r="1.35"/>
<circle cx="438" cy="844.0" r="1.35"/>
<circle cx="438" cy="851.5" r="1.35"/>
<circle cx="438" cy="856.0" r="1.35"/>
<circle cx="438" cy="859.0" r="1.35"/>
<circle cx="439" cy="831.5" r="1.35"/>
<circle cx="439" cy="833.5" r="1.35"/>
<circle cx="439" cy="837.0" r="1.35"/>
<circle cx="439" cy="841.0" r="1.35"/>
<circle cx="439" cy="844.0" r="1.35"/>
<circle cx="439" cy="845.5" r="1.35"/>
<circle cx="439" cy="847.5" r="1.35"/>
<circle cx="439" cy="853.5" r="1.35"/>
<circle cx="439" cy="862.0" r="1.35"/>
<circle cx="440" cy="832.5" r="1.35"/>
<circle cx="440" cy="833.5" r="1.35"/>
<circle cx="440" cy="841.0" r="1.35"/>
<circle cx="440" cy="844.0" r="1.35"/>
<circle cx="440" cy="845.5" r="1.35"/>
<circle cx="440" cy="859.0" r="1.35"/>
<circle cx="440" cy="874.0" r="1.35"/>
<circle cx="441" cy="836.0" r="1.35"/>
<circle cx="441" cy="837.0" r="1.35"/>
<circle cx="441" cy="844.0" r="1.35"/>
<circle cx="441" cy="847.5" r="1.35"/>
<circle cx="441" cy="849.5" r="1.35"/>
<circle cx="441" cy="851.5" r="1.35"/>
<circle cx="441" cy="853.5" r="1.35"/>
<circle cx="441" cy="856.0" r="1.35"/>
<circle cx="441" cy="865.5" r="1.35"/>
<circle cx="442" cy="838.5" r="1.35"/>
<circle cx="442" cy="841.0" r="1.35"/>
<circle cx="442" cy="845.5" r="1.35"/>
<circle cx="442" cy="847.5" r="1.35"/>
<circle cx="442" cy="849.5" r="1.35"/>
<circle cx="442" cy="853.5" r="1.35"/>
<circle cx="442" cy="856.0" r="1.35"/>
<circle cx="443" cy="838.5" r="1.35"/>
<circle cx="443" cy="839.5" r="1.35"/>
<circle cx="443" cy="842.5" r="1.35"/>
<circle cx="443" cy="844.0" r="1.35"/>
<circle cx="443" cy="851.5" r="1.35"/>
<circle cx="443" cy="856.0" r="1.35"/>
<circle cx="443" cy="859.0" r="1.35"/>
<circle cx="443" cy="865.5" r="1.35"/>
<circle cx="443" cy="869.0" r="1.35"/>
<circle cx="444" cy="838.5" r="1.35"/>
<circle cx="444" cy="841.0" r="1.35"/>
<circle cx="444" cy="842.5" r="1.35"/>
<circle cx="444" cy="847.5" r="1.35"/>
<circle cx="444" cy="853.5" r="1.35"/>
<circle cx="444" cy="862.0" r="1.35"/>
<circle cx="444" cy="865.5" r="1.35"/>
<circle cx="445" cy="841.0" r="1.35"/>
<circle cx="445" cy="842.5" r="1.35"/>
<circle cx="445" cy="844.0" r="1.35"/>
<circle cx="445" cy="849.5" r="1.35"/>
<circle cx="445" cy="853.5" r="1.35"/>
<circle cx="445" cy="856.0" r="1.35"/>
<circle cx="445" cy="865.5" r="1.35"/>
<circle cx="445" cy="874.0" r="1.35"/>
<circle cx="446" cy="833.5" r="1.35"/>
<circle cx="446" cy="844.0" r="1.35"/>
<circle cx="446" cy="847.5" r="1.35"/>
<circle cx="446" cy="849.5" r="1.35"/>
<circle cx="446" cy="853.5" r="1.35"/>
<circle cx="446" cy="862.0" r="1.35"/>
<circle cx="446" cy="879.5" r="1.35"/>
<circle cx="447" cy="849.5" r="1.35"/>
<circle cx="447" cy="851.5" r="1.35"/>
<circle cx="447" cy="853.5" r="1.35"/>
<circle cx="447" cy="856.0" r="1.35"/>
<circle cx="447" cy="859.0" r="1.35"/>
<circle cx="447" cy="862.0" r="1.35"/>
<circle cx="447" cy="865.5" r="1.35"/>
<circle cx="448" cy="847.5" r="1.35"/>
<circle cx="448" cy="853.5" r="1.35"/>
<circle cx="448" cy="859.0" r="1.35"/>
<circle cx="448" cy="862.0" r="1.35"/>
<circle cx="448" cy="865.5" r="1.35"/>
<circle cx="448" cy="869.0" r="1.35"/>
<circle cx="448" cy="874.0" r="1.35"/>
<circle cx="449" cy="853.5" r="1.35"/>
<circle cx="449" cy="856.0" r="1.35"/>
<circle cx="449" cy="859.0" r="1.35"/>
<circle cx="449" cy="862.0" r="1.35"/>
<circle cx="449" cy="865.5" r="1.35"/>
<circle cx="449" cy="869.0" r="1.35"/>
<circle cx="450" cy="842.5" r="1.35"/>
<circle cx="450" cy="847.5" r="1.35"/>
<circle cx="450" cy="849.5" r="1.35"/>
<circle cx="450" cy="859.0" r="1.35"/>
<circle cx="450" cy="862.0" r="1.35"/>
<circle cx="450" cy="865.5" r="1.35"/>
<circle cx="450" cy="879.5" r="1.35"/>
<circle cx="450" cy="887.0" r="1.35"/>
<circle cx="451" cy="847.5" r="1.35"/>
<circle cx="451" cy="853.5" r="1.35"/>
<circle cx="451" cy="859.0" r="1.35"/>
<circle cx="451" cy="862.0" r="1.35"/>
<circle cx="451" cy="869.0" r="1.35"/>
<circle cx="451" cy="874.0" r="1.35"/>
<circle cx="451" cy="879.5" r="1.35"/>
<circle cx="451" cy="887.0" r="1.35"/>
<circle cx="452" cy="851.5" r="1.35"/>
<circle cx="452" cy="856.0" r="1.35"/>
<circle cx="452" cy="862.0" r="1.35"/>
<circle cx="452" cy="865.5" r="1.35"/>
<circle cx="452" cy="879.5" r="1.35"/>
<circle cx="452" cy="887.0" r="1.35"/>
<circle cx="453" cy="841.0" r="1.35"/>
<circle cx="453" cy="862.0" r="1.35"/>
<circle cx="453" cy="865.5" r="1.35"/>
<circle cx="453" cy="869.0" r="1.35"/>
<circle cx="453" cy="874.0" r="1.35"/>
<circle cx="453" cy="887.0" r="1.35"/>
<circle cx="454" cy="849.5" r="1.35"/>
<circle cx="454" cy="851.5" r="1.35"/>
<circle cx="454" cy="859.0" r="1.35"/>
<circle cx="454" cy="862.0" r="1.35"/>
<circle cx="454" cy="865.5" r="1.35"/>
<circle cx="454" cy="874.0" r="1.35"/>
<circle cx="455" cy="853.5" r="1.35"/>
<circle cx="455" cy="859.0" r="1.35"/>
<circle cx="455" cy="862.0" r="1.35"/>
<circle cx="455" cy="865.5" r="1.35"/>
<circle cx="455" cy="869.0" r="1.35"/>
<circle cx="455" cy="874.0" r="1.35"/>
<circle cx="455" cy="887.0" r="1.35"/>
<circle cx="456" cy="853.5" r="1.35"/>
<circle cx="456" cy="862.0" r="1.35"/>
<circle cx="456" cy="874.0" r="1.35"/>
<circle cx="456" cy="879.5" r="1.35"/>
<circle cx="456" cy="887.0" r="1.35"/>
<circle cx="456" cy="897.5" r="1.35"/>
<circle cx="457" cy="856.0" r="1.35"/>
<circle cx="457" cy="862.0" r="1.35"/>
<circle cx="457" cy="869.0" r="1.35"/>
<circle cx="457" cy="874.0" r="1.35"/>
<circle cx="457" cy="879.5" r="1.35"/>
<circle cx="457" cy="887.0" r="1.35"/>
<circle cx="458" cy="865.5" r="1.35"/>
<circle cx="458" cy="869.0" r="1.35"/>
<circle cx="458" cy="874.0" r="1.35"/>
<circle cx="458" cy="879.5" r="1.35"/>
<circle cx="458" cy="897.5" r="1.35"/>
<circle cx="459" cy="865.5" r="1.35"/>
<circle cx="459" cy="874.0" r="1.35"/>
<circle cx="459" cy="879.5" r="1.35"/>
<circle cx="459" cy="897.5" r="1.35"/>
<circle cx="460" cy="856.0" r="1.35"/>
<circle cx="460" cy="865.5" r="1.35"/>
<circle cx="460" cy="869.0" r="1.35"/>
<circle cx="460" cy="887.0" r="1.35"/>
<circle cx="461" cy="845.5" r="1.35"/>
<circle cx="461" cy="851.5" r="1.35"/>
<circle cx="461" cy="862.0" r="1.35"/>
<circle cx="461" cy="874.0" r="1.35"/>
<circle cx="461" cy="879.5" r="1.35"/>
<circle cx="462" cy="865.5" r="1.35"/>
<circle cx="462" cy="869.0" r="1.35"/>
<circle cx="462" cy="874.0" r="1.35"/>
<circle cx="462" cy="879.5" r="1.35"/>
<circle cx="462" cy="897.5" r="1.35"/>
<circle cx="463" cy="862.0" r="1.35"/>
<circle cx="463" cy="865.5" r="1.35"/>
<circle cx="463" cy="869.0" r="1.35"/>
<circle cx="463" cy="874.0" r="1.35"/>
<circle cx="463" cy="879.5" r="1.35"/>
<circle cx="463" cy="887.0" r="1.35"/>
<circle cx="463" cy="897.5" r="1.35"/>
<circle cx="464" cy="865.5" r="1.35"/>
<circle cx="464" cy="869.0" r="1.35"/>
<circle cx="464" cy="874.0" r="1.35"/>
<circle cx="464" cy="887.0" r="1.35"/>
<circle cx="464" cy="897.5" r="1.35"/>
<circle cx="464" cy="915.5" r="1.35"/>
<circle cx="465" cy="874.0" r="1.35"/>
<circle cx="465" cy="879.5" r="1.35"/>
<circle cx="465" cy="897.5" r="1.35"/>
<circle cx="466" cy="869.0" r="1.35"/>
<circle cx="466" cy="874.0" r="1.35"/>
<circle cx="466" cy="879.5" r="1.35"/>
<circle cx="466" cy="887.0" r="1.35"/>
<circle cx="466" cy="897.5" r="1.35"/>
<circle cx="467" cy="856.0" r="1.35"/>
<circle cx="467" cy="869.0" r="1.35"/>
<circle cx="467" cy="879.5" r="1.35"/>
<circle cx="467" cy="887.0" r="1.35"/>
<circle cx="467" cy="897.5" r="1.35"/>
<circle cx="468" cy="862.0" r="1.35"/>
<circle cx="468" cy="869.0" r="1.35"/>
<circle cx="468" cy="874.0" r="1.35"/>
<circle cx="468" cy="879.5" r="1.35"/>
<circle cx="468" cy="887.0" r="1.35"/>
<circle cx="469" cy="869.0" r="1.35"/>
<circle cx="469" cy="874.0" r="1.35"/>
<circle cx="469" cy="879.5" r="1.35"/>
<circle cx="469" cy="887.0" r="1.35"/>
<circle cx="469" cy="897.5" r="1.35"/>
<circle cx="470" cy="865.5" r="1.35"/>
<circle cx="470" cy="869.0" r="1.35"/>
<circle cx="470" cy="887.0" r="1.35"/>
<circle cx="470" cy="897.5" r="1.35"/>
<circle cx="471" cy="869.0" r="1.35"/>
<circle cx="471" cy="874.0" r="1.35"/>
<circle cx="471" cy="879.5" r="1.35"/>
<circle cx="471" cy="897.5" r="1.35"/>
<circle cx="471" cy="915.5" r="1.35"/>
<circle cx="472" cy="859.0" r="1.35"/>
<circle cx="472" cy="869.0" r="1.35"/>
<circle cx="472" cy="874.0" r="1.35"/>
<circle cx="472" cy="879.5" r="1.35"/>
<circle cx="472" cy="887.0" r="1.35"/>
<circle cx="472" cy="897.5" r="1.35"/>
<circle cx="473" cy="865.5" r="1.35"/>
<circle cx="473" cy="869.0" r="1.35"/>
<circle cx="473" cy="874.0" r="1.35"/>
<circle cx="473" cy="879.5" r="1.35"/>
<circle cx="473" cy="887.0" r="1.35"/>
<circle cx="473" cy="897.5" r="1.35"/>
<circle cx="474" cy="874.0" r="1.35"/>
<circle cx="474" cy="879.5" r="1.35"/>
<circle cx="474" cy="887.0" r="1.35"/>
<circle cx="474" cy="897.5" r="1.35"/>
<circle cx="475" cy="869.0" r="1.35"/>
<circle cx="475" cy="887.0" r="1.35"/>
<circle cx="475" cy="897.5" r="1.35"/>
<circle cx="475" cy="915.5" r="1.35"/>
<circle cx="476" cy="869.0" r="1.35"/>
<circle cx="476" cy="874.0" r="1.35"/>
<circle cx="476" cy="879.5" r="1.35"/>
<circle cx="476" cy="897.5" r="1.35"/>
<circle cx="477" cy="879.5" r="1.35"/>
<circle cx="477" cy="887.0" r="1.35"/>
<circle cx="477" cy="897.5" r="1.35"/>
<circle cx="478" cy="874.0" r="1.35"/>
<circle cx="478" cy="879.5" r="1.35"/>
<circle cx="478" cy="887.0" r="1.35"/>
<circle cx="478" cy="897.5" r="1.35"/>
<circle cx="478" cy="915.5" r="1.35"/>
<circle cx="479" cy="869.0" r="1.35"/>
<circle cx="479" cy="874.0" r="1.35"/>
<circle cx="479" cy="879.5" r="1.35"/>
<circle cx="479" cy="887.0" r="1.35"/>
<circle cx="479" cy="897.5" r="1.35"/>
<circle cx="480" cy="874.0" r="1.35"/>
<circle cx="480" cy="879.5" r="1.35"/>
<circle cx="480" cy="897.5" r="1.35"/>
<circle cx="480" cy="915.5" r="1.35"/>
<circle cx="481" cy="865.5" r="1.35"/>
<circle cx="481" cy="874.0" r="1.35"/>
<circle cx="481" cy="879.5" r="1.35"/>
<circle cx="481" cy="887.0" r="1.35"/>
<circle cx="481" cy="897.5" r="1.35"/>
<circle cx="481" cy="915.5" r="1.35"/>
<circle cx="482" cy="869.0" r="1.35"/>
<circle cx="482" cy="874.0" r="1.35"/>
<circle cx="482" cy="879.5" r="1.35"/>
<circle cx="482" cy="887.0" r="1.35"/>
<circle cx="482" cy="897.5" r="1.35"/>
<circle cx="482" cy="915.5" r="1.35"/>
<circle cx="483" cy="874.0" r="1.35"/>
<circle cx="483" cy="879.5" r="1.35"/>
<circle cx="483" cy="887.0" r="1.35"/>
<circle cx="483" cy="897.5" r="1.35"/>
<circle cx="483" cy="915.5" r="1.35"/>
<circle cx="484" cy="874.0" r="1.35"/>
<circle cx="484" cy="879.5" r="1.35"/>
<circle cx="484" cy="887.0" r="1.35"/>
<circle cx="484" cy="897.5" r="1.35"/>
<circle cx="484" cy="915.5" r="1.35"/>
<circle cx="485" cy="869.0" r="1.35"/>
<circle cx="485" cy="874.0" r="1.35"/>
<circle cx="485" cy="879.5" r="1.35"/>
<circle cx="485" cy="887.0" r="1.35"/>
<circle cx="485" cy="897.5" r="1.35"/>
<circle cx="485" cy="915.5" r="1.35"/>
<circle cx="486" cy="869.0" r="1.35"/>
<circle cx="486" cy="887.0" r="1.35"/>
<circle cx="486" cy="897.5" r="1.35"/>
<circle cx="486" cy="915.5" r="1.35"/>
<circle cx="487" cy="887.0" r="1.35"/>
<circle cx="487" cy="897.5" r="1.35"/>
<circle cx="487" cy="915.5" r="1.35"/>
<circle cx="488" cy="874.0" r="1.35"/>
<circle cx="488" cy="879.5" r="1.35"/>
<circle cx="488" cy="897.5" r="1.35"/>
<circle cx="488" cy="915.5" r="1.35"/>
<circle cx="489" cy="874.0" r="1.35"/>
<circle cx="489" cy="879.5" r="1.35"/>
<circle cx="489" cy="887.0" r="1.35"/>
<circle cx="489" cy="897.5" r="1.35"/>
<circle cx="489" cy="915.5" r="1.35"/>
<circle cx="490" cy="879.5" r="1.35"/>
<circle cx="490" cy="887.0" r="1.35"/>
<circle cx="490" cy="897.5" r="1.35"/>
<circle cx="490" cy="915.5" r="1.35"/>
<circle cx="491" cy="874.0" r="1.35"/>
<circle cx="491" cy="879.5" r="1.35"/>
<circle cx="491" cy="887.0" r="1.35"/>
<circle cx="491" cy="897.5" r="1.35"/>
<circle cx="492" cy="865.5" r="1.35"/>
<circle cx="492" cy="879.5" r="1.35"/>
<circle cx="492" cy="887.0" r="1.35"/>
<circle cx="492" cy="897.5" r="1.35"/>
<circle cx="492" cy="915.5" r="1.35"/>
<circle cx="493" cy="874.0" r="1.35"/>
<circle cx="493" cy="879.5" r="1.35"/>
<circle cx="493" cy="887.0" r="1.35"/>
<circle cx="493" cy="897.5" r="1.35"/>
<circle cx="493" cy="915.5" r="1.35"/>
<circle cx="494" cy="869.0" r="1.35"/>
<circle cx="494" cy="887.0" r="1.35"/>
<circle cx="494" cy="897.5" r="1.35"/>
<circle cx="494" cy="915.5" r="1.35"/>
<circle cx="495" cy="874.0" r="1.35"/>
<circle cx="495" cy="879.5" r="1.35"/>
<circle cx="495" cy="887.0" r="1.35"/>
<circle cx="495" cy="897.5" r="1.35"/>
<circle cx="495" cy="915.5" r="1.35"/>
<circle cx="496" cy="874.0" r="1.35"/>
<circle cx="496" cy="887.0" r="1.35"/>
<circle cx="496" cy="897.5" r="1.35"/>
<circle cx="496" cy="915.5" r="1.35"/>
<circle cx="497" cy="874.0" r="1.35"/>
<circle cx="497" cy="879.5" r="1.35"/>
<circle cx="497" cy="897.5" r="1.35"/>
<circle cx="497" cy="915.5" r="1.35"/>
<circle cx="498" cy="869.0" r="1.35"/>
<circle cx="498" cy="874.0" r="1.35"/>
<circle cx="498" cy="879.5" r="1.35"/>
<circle cx="498" cy="887.0" r="1.35"/>
<circle cx="498" cy="897.5" r="1.35"/>
<circle cx="498" cy="915.5" r="1.35"/>
<circle cx="499" cy="865.5" r="1.35"/>
<circle cx="499" cy="879.5" r="1.35"/>
<circle cx="499" cy="887.0" r="1.35"/>
<circle cx="499" cy="897.5" r="1.35"/>
<circle cx="499" cy="915.5" r="1.35"/>
<circle cx="500" cy="874.0" r="1.35"/>
<circle cx="500" cy="879.5" r="1.35"/>
<circle cx="500" cy="887.0" r="1.35"/>
<circle cx="500" cy="897.5" r="1.35"/>
<circle cx="500" cy="915.5" r="1.35"/>
<circle cx="501" cy="865.5" r="1.35"/>
<circle cx="501" cy="874.0" r="1.35"/>
<circle cx="501" cy="879.5" r="1.35"/>
<circle cx="501" cy="887.0" r="1.35"/>
<circle cx="501" cy="897.5" r="1.35"/>
<circle cx="501" cy="915.5" r="1.35"/>
<circle cx="502" cy="865.5" r="1.35"/>
<circle cx="502" cy="869.0" r="1.35"/>
<circle cx="502" cy="879.5" r="1.35"/>
<circle cx="502" cy="887.0" r="1.35"/>
<circle cx="502" cy="897.5" r="1.35"/>
<circle cx="502" cy="915.5" r="1.35"/>
<circle cx="503" cy="879.5" r="1.35"/>
<circle cx="503" cy="887.0" r="1.35"/>
<circle cx="503" cy="897.5" r="1.35"/>
<circle cx="503" cy="915.5" r="1.35"/>
<circle cx="504" cy="887.0" r="1.35"/>
<circle cx="504" cy="897.5" r="1.35"/>
<circle cx="504" cy="915.5" r="1.35"/>
<circle cx="505" cy="879.5" r="1.35"/>
<circle cx="505" cy="887.0" r="1.35"/>
<circle cx="505" cy="897.5" r="1.35"/>
<circle cx="506" cy="874.0" r="1.35"/>
<circle cx="506" cy="879.5" r="1.35"/>
<circle cx="506" cy="887.0" r="1.35"/>
<circle cx="506" cy="897.5" r="1.35"/>
<circle cx="506" cy="915.5" r="1.35"/>
<circle cx="507" cy="879.5" r="1.35"/>
<circle cx="507" cy="887.0" r="1.35"/>
<circle cx="507" cy="897.5" r="1.35"/>
<circle cx="507" cy="915.5" r="1.35"/>
<circle cx="508" cy="874.0" r="1.35"/>
<circle cx="508" cy="887.0" r="1.35"/>
<circle cx="508" cy="897.5" r="1.35"/>
<circle cx="508" cy="915.5" r="1.35"/>
<circle cx="509" cy="879.5" r="1.35"/>
<circle cx="509" cy="887.0" r="1.35"/>
<circle cx="509" cy="897.5" r="1.35"/>
<circle cx="509" cy="915.5" r="1.35"/>
<circle cx="510" cy="869.0" r="1.35"/>
<circle cx="510" cy="874.0" r="1.35"/>
<circle cx="510" cy="887.0" r="1.35"/>
<circle cx="510" cy="897.5" r="1.35"/>
<circle cx="510" cy="915.5" r="1.35"/>
<circle cx="511" cy="874.0" r="1.35"/>
<circle cx="511" cy="879.5" r="1.35"/>
<circle cx="511" cy="887.0" r="1.35"/>
<circle cx="511" cy="897.5" r="1.35"/>
<circle cx="511" cy="915.5" r="1.35"/>
<circle cx="512" cy="897.5" r="1.35"/>
<circle cx="512" cy="915.5" r="1.35"/>
<circle cx="513" cy="862.0" r="1.35"/>
<circle cx="513" cy="869.0" r="1.35"/>
<circle cx="513" cy="879.5" r="1.35"/>
<circle cx="513" cy="887.0" r="1.35"/>
<circle cx="513" cy="897.5" r="1.35"/>
<circle cx="513" cy="915.5" r="1.35"/>
<circle cx="514" cy="874.0" r="1.35"/>
<circle cx="514" cy="879.5" r="1.35"/>
<circle cx="514" cy="887.0" r="1.35"/>
<circle cx="514" cy="897.5" r="1.35"/>
<circle cx="514" cy="915.5" r="1.35"/>
<circle cx="515" cy="874.0" r="1.35"/>
<circle cx="515" cy="879.5" r="1.35"/>
<circle cx="515" cy="887.0" r="1.35"/>
<circle cx="515" cy="897.5" r="1.35"/>
<circle cx="515" cy="915.5" r="1.35"/>
<circle cx="516" cy="874.0" r="1.35"/>
<circle cx="516" cy="887.0" r="1.35"/>
<circle cx="516" cy="897.5" r="1.35"/>
<circle cx="516" cy="915.5" r="1.35"/>
<circle cx="517" cy="874.0" r="1.35"/>
<circle cx="517" cy="897.5" r="1.35"/>
<circle cx="517" cy="915.5" r="1.35"/>
<circle cx="518" cy="874.0" r="1.35"/>
<circle cx="518" cy="879.5" r="1.35"/>
<circle cx="518" cy="887.0" r="1.35"/>
<circle cx="518" cy="897.5" r="1.35"/>
<circle cx="518" cy="915.5" r="1.35"/>
<circle cx="519" cy="874.0" r="1.35"/>
<circle cx="519" cy="879.5" r="1.35"/>
<circle cx="519" cy="897.5" r="1.35"/>
<circle cx="519" cy="915.5" r="1.35"/>
<circle cx="520" cy="869.0" r="1.35"/>
<circle cx="520" cy="874.0" r="1.35"/>
<circle cx="520" cy="879.5" r="1.35"/>
<circle cx="520" cy="887.0" r="1.35"/>
<circle cx="520" cy="897.5" r="1.35"/>
<circle cx="520" cy="915.5" r="1.35"/>
<circle cx="521" cy="879.5" r="1.35"/>
<circle cx="521" cy="887.0" r="1.35"/>
<circle cx="521" cy="897.5" r="1.35"/>
<circle cx="521" cy="915.5" r="1.35"/>
<circle cx="522" cy="869.0" r="1.35"/>
<circle cx="522" cy="874.0" r="1.35"/>
<circle cx="522" cy="897.5" r="1.35"/>
<circle cx="522" cy="915.5" r="1.35"/>
<circle cx="523" cy="865.5" r="1.35"/>
<circle cx="523" cy="879.5" r="1.35"/>
<circle cx="523" cy="887.0" r="1.35"/>
<circle cx="523" cy="897.5" r="1.35"/>
<circle cx="523" cy="915.5" r="1.35"/>
<circle cx="524" cy="869.0" r="1.35"/>
<circle cx="524" cy="874.0" r="1.35"/>
<circle cx="524" cy="879.5" r="1.35"/>
<circle cx="524" cy="897.5" r="1.35"/>
<circle cx="524" cy="915.5" r="1.35"/>
<circle cx="525" cy="874.0" r="1.35"/>
<circle cx="525" cy="879.5" r="1.35"/>
<circle cx="525" cy="897.5" r="1.35"/>
<circle cx="525" cy="915.5" r="1.35"/>
<circle cx="526" cy="879.5" r="1.35"/>
<circle cx="526" cy="887.0" r="1.35"/>
<circle cx="526" cy="915.5" r="1.35"/>
<circle cx="527" cy="879.5" r="1.35"/>
<circle cx="527" cy="887.0" r="1.35"/>
<circle cx="527" cy="897.5" r="1.35"/>
<circle cx="527" cy="915.5" r="1.35"/>
<circle cx="528" cy="869.0" r="1.35"/>
<circle cx="528" cy="874.0" r="1.35"/>
<circle cx="528" cy="879.5" r="1.35"/>
<circle cx="528" cy="887.0" r="1.35"/>
<circle cx="528" cy="897.5" r="1.35"/>
<circle cx="528" cy="915.5" r="1.35"/>
<circle cx="529" cy="865.5" r="1.35"/>
<circle cx="529" cy="879.5" r="1.35"/>
<circle cx="529" cy="887.0" r="1.35"/>
<circle cx="529" cy="897.5" r="1.35"/>
<circle cx="529" cy="915.5" r="1.35"/>
<circle cx="530" cy="879.5" r="1.35"/>
<circle cx="530" cy="887.0" r="1.35"/>
<circle cx="530" cy="897.5" r="1.35"/>
<circle cx="530" cy="915.5" r="1.35"/>
<circle cx="531" cy="869.0" r="1.35"/>
<circle cx="531" cy="874.0" r="1.35"/>
<circle cx="531" cy="879.5" r="1.35"/>
<circle cx="531" cy="887.0" r="1.35"/>
<circle cx="531" cy="897.5" r="1.35"/>
<circle cx="531" cy="915.5" r="1.35"/>
<circle cx="532" cy="879.5" r="1.35"/>
<circle cx="532" cy="887.0" r="1.35"/>
<circle cx="532" cy="897.5" r="1.35"/>
<circle cx="532" cy="915.5" r="1.35"/>
<circle cx="533" cy="865.5" r="1.35"/>
<circle cx="533" cy="874.0" r="1.35"/>
<circle cx="533" cy="879.5" r="1.35"/>
<circle cx="533" cy="887.0" r="1.35"/>
<circle cx="533" cy="915.5" r="1.35"/>
<circle cx="534" cy="879.5" r="1.35"/>
<circle cx="534" cy="887.0" r="1.35"/>
<circle cx="534" cy="897.5" r="1.35"/>
<circle cx="534" cy="915.5" r="1.35"/>
<circle cx="535" cy="869.0" r="1.35"/>
<circle cx="535" cy="874.0" r="1.35"/>
<circle cx="535" cy="887.0" r="1.35"/>
<circle cx="535" cy="897.5" r="1.35"/>
<circle cx="535" cy="915.5" r="1.35"/>
<circle cx="536" cy="879.5" r="1.35"/>
<circle cx="536" cy="887.0" r="1.35"/>
<circle cx="536" cy="897.5" r="1.35"/>
<circle cx="536" cy="915.5" r="1.35"/>
<circle cx="537" cy="879.5" r="1.35"/>
<circle cx="537" cy="887.0" r="1.35"/>
<circle cx="537" cy="897.5" r="1.35"/>
<circle cx="537" cy="915.5" r="1.35"/>
<circle cx="538" cy="879.5" r="1.35"/>
<circle cx="538" cy="887.0" r="1.35"/>
<circle cx="538" cy="897.5" r="1.35"/>
<circle cx="538" cy="915.5" r="1.35"/>
<circle cx="539" cy="879.5" r="1.35"/>
<circle cx="539" cy="887.0" r="1.35"/>
<circle cx="539" cy="897.5" r="1.35"/>
<circle cx="539" cy="915.5" r="1.35"/>
<circle cx="540" cy="879.5" r="1.35"/>
<circle cx="540" cy="887.0" r="1.35"/>
<circle cx="540" cy="897.5" r="1.35"/>
<circle cx="540" cy="915.5" r="1.35"/>
<circle cx="541" cy="879.5" r="1.35"/>
<circle cx="541" cy="897.5" r="1.35"/>
<circle cx="541" cy="915.5" r="1.35"/>
<circle cx="542" cy="869.0" r="1.35"/>
<circle cx="542" cy="879.5" r="1.35"/>
<circle cx="542" cy="887.0" r="1.35"/>
<circle cx="542" cy="897.5" r="1.35"/>
<circle cx="543" cy="862.0" r="1.35"/>
<circle cx="543" cy="865.5" r="1.35"/>
<circle cx="543" cy="887.0" r="1.35"/>
<circle cx="543" cy="897.5" r="1.35"/>
<circle cx="543" cy="915.5" r="1.35"/>
<circle cx="544" cy="874.0" r="1.35"/>
<circle cx="544" cy="879.5" r="1.35"/>
<circle cx="544" cy="887.0" r="1.35"/>
<circle cx="544" cy="897.5" r="1.35"/>
<circle cx="544" cy="915.5" r="1.35"/>
<circle cx="545" cy="874.0" r="1.35"/>
<circle cx="545" cy="887.0" r="1.35"/>
<circle cx="545" cy="897.5" r="1.35"/>
<circle cx="545" cy="915.5" r="1.35"/>
<circle cx="546" cy="879.5" r="1.35"/>
<circle cx="546" cy="887.0" r="1.35"/>
<circle cx="546" cy="897.5" r="1.35"/>
<circle cx="546" cy="915.5" r="1.35"/>
<circle cx="547" cy="897.5" r="1.35"/>
<circle cx="547" cy="915.5" r="1.35"/>
<circle cx="548" cy="865.5" r="1.35"/>
<circle cx="548" cy="887.0" r="1.35"/>
<circle cx="548" cy="897.5" r="1.35"/>
<circle cx="548" cy="915.5" r="1.35"/>
<circle cx="549" cy="869.0" r="1.35"/>
<circle cx="549" cy="874.0" r="1.35"/>
<circle cx="549" cy="879.5" r="1.35"/>
<circle cx="549" cy="887.0" r="1.35"/>
<circle cx="550" cy="879.5" r="1.35"/>
<circle cx="550" cy="897.5" r="1.35"/>
<circle cx="550" cy="915.5" r="1.35"/>
<circle cx="551" cy="879.5" r="1.35"/>
<circle cx="551" cy="897.5" r="1.35"/>
<circle cx="551" cy="915.5" r="1.35"/>
<circle cx="552" cy="874.0" r="1.35"/>
<circle cx="552" cy="879.5" r="1.35"/>
<circle cx="552" cy="887.0" r="1.35"/>
<circle cx="552" cy="897.5" r="1.35"/>
<circle cx="552" cy="915.5" r="1.35"/>
<circle cx="553" cy="869.0" r="1.35"/>
<circle cx="553" cy="879.5" r="1.35"/>
<circle cx="553" cy="887.0" r="1.35"/>
<circle cx="553" cy="897.5" r="1.35"/>
<circle cx="553" cy="915.5" r="1.35"/>
<circle cx="554" cy="879.5" r="1.35"/>
<circle cx="554" cy="887.0" r="1.35"/>
<circle cx="554" cy="897.5" r="1.35"/>
<circle cx="554" cy="915.5" r="1.35"/>
<circle cx="555" cy="862.0" r="1.35"/>
<circle cx="555" cy="865.5" r="1.35"/>
<circle cx="555" cy="887.0" r="1.35"/>
<circle cx="555" cy="897.5" r="1.35"/>
<circle cx="555" cy="915.5" r="1.35"/>
<circle cx="556" cy="879.5" r="1.35"/>
<circle cx="556" cy="887.0" r="1.35"/>
<circle cx="556" cy="897.5" r="1.35"/>
<circle cx="556" cy="915.5" r="1.35"/>
<circle cx="557" cy="865.5" r="1.35"/>
<circle cx="557" cy="869.0" r="1.35"/>
<circle cx="557" cy="879.5" r="1.35"/>
<circle cx="557" cy="887.0" r="1.35"/>
<circle cx="557" cy="897.5" r="1.35"/>
<circle cx="557" cy="915.5" r="1.35"/>
<circle cx="558" cy="879.5" r="1.35"/>
<circle cx="558" cy="887.0" r="1.35"/>
<circle cx="558" cy="897.5" r="1.35"/>
<circle cx="558" cy="915.5" r="1.35"/>
<circle cx="559" cy="874.0" r="1.35"/>
<circle cx="559" cy="879.5" r="1.35"/>
<circle cx="559" cy="887.0" r="1.35"/>
<circle cx="559" cy="897.5" r="1.35"/>
<circle cx="559" cy="915.5" r="1.35"/>
<circle cx="560" cy="874.0" r="1.35"/>
<circle cx="560" cy="887.0" r="1.35"/>
<circle cx="560" cy="897.5" r="1.35"/>
<circle cx="560" cy="915.5" r="1.35"/>
<circle cx="561" cy="869.0" r="1.35"/>
<circle cx="561" cy="887.0" r="1.35"/>
<circle cx="561" cy="897.5" r="1.35"/>
<circle cx="561" cy="915.5" r="1.35"/>
<circle cx="562" cy="879.5" r="1.35"/>
<circle cx="562" cy="887.0" r="1.35"/>
<circle cx="562" cy="897.5" r="1.35"/>
<circle cx="562" cy="915.5" r="1.35"/>
<circle cx="563" cy="887.0" r="1.35"/>
<circle cx="563" cy="897.5" r="1.35"/>
<circle cx="563" cy="915.5" r="1.35"/>
<circle cx="564" cy="879.5" r="1.35"/>
<circle cx="564" cy="887.0" r="1.35"/>
<circle cx="564" cy="897.5" r="1.35"/>
<circle cx="564" cy="915.5" r="1.35"/>
<circle cx="565" cy="874.0" r="1.35"/>
<circle cx="565" cy="879.5" r="1.35"/>
<circle cx="565" cy="887.0" r="1.35"/>
<circle cx="565" cy="897.5" r="1.35"/>
<circle cx="565" cy="915.5" r="1.35"/>
<circle cx="566" cy="869.0" r="1.35"/>
<circle cx="566" cy="887.0" r="1.35"/>
<circle cx="566" cy="897.5" r="1.35"/>
<circle cx="566" cy="915.5" r="1.35"/>
<circle cx="567" cy="879.5" r="1.35"/>
<circle cx="567" cy="887.0" r="1.35"/>
<circle cx="567" cy="897.5" r="1.35"/>
<circle cx="567" cy="915.5" r="1.35"/>
<circle cx="568" cy="879.5" r="1.35"/>
<circle cx="568" cy="887.0" r="1.35"/>
<circle cx="568" cy="897.5" r="1.35"/>
<circle cx="568" cy="915.5" r="1.35"/>
<circle cx="569" cy="887.0" r="1.35"/>
<circle cx="569" cy="897.5" r="1.35"/>
<circle cx="569" cy="915.5" r="1.35"/>
<circle cx="570" cy="874.0" r="1.35"/>
<circle cx="570" cy="879.5" r="1.35"/>
<circle cx="570" cy="887.0" r="1.35"/>
<circle cx="570" cy="897.5" r="1.35"/>
<circle cx="570" cy="915.5" r="1.35"/>
<circle cx="571" cy="879.5" r="1.35"/>
<circle cx="571" cy="887.0" r="1.35"/>
<circle cx="571" cy="897.5" r="1.35"/>
<circle cx="571" cy="915.5" r="1.35"/>
<circle cx="572" cy="879.5" r="1.35"/>
<circle cx="572" cy="887.0" r="1.35"/>
<circle cx="572" cy="897.5" r="1.35"/>
<circle cx="572" cy="915.5" r="1.35"/>
<circle cx="573" cy="887.0" r="1.35"/>
<circle cx="573" cy="897.5" r="1.35"/>
<circle cx="573" cy="915.5" r="1.35"/>
<circle cx="574" cy="887.0" r="1.35"/>
<circle cx="574" cy="897.5" r="1.35"/>
<circle cx="574" cy="915.5" r="1.35"/>
<circle cx="575" cy="874.0" r="1.35"/>
<circle cx="575" cy="879.5" r="1.35"/>
<circle cx="575" cy="887.0" r="1.35"/>
<circle cx="575" cy="897.5" r="1.35"/>
<circle cx="575" cy="915.5" r="1.35"/>
<circle cx="576" cy="869.0" r="1.35"/>
<circle cx="576" cy="874.0" r="1.35"/>
<circle cx="576" cy="879.5" r="1.35"/>
<circle cx="576" cy="887.0" r="1.35"/>
<circle cx="576" cy="897.5" r="1.35"/>
<circle cx="577" cy="874.0" r="1.35"/>
<circle cx="577" cy="879.5" r="1.35"/>
<circle cx="577" cy="887.0" r="1.35"/>
<circle cx="577" cy="915.5" r="1.35"/>
<circle cx="578" cy="874.0" r="1.35"/>
<circle cx="578" cy="879.5" r="1.35"/>
<circle cx="578" cy="887.0" r="1.35"/>
<circle cx="578" cy="897.5" r="1.35"/>
<circle cx="578" cy="915.5" r="1.35"/>
<circle cx="579" cy="874.0" r="1.35"/>
<circle cx="579" cy="887.0" r="1.35"/>
<circle cx="579" cy="897.5" r="1.35"/>
<circle cx="580" cy="879.5" r="1.35"/>
<circle cx="580" cy="887.0" r="1.35"/>
<circle cx="580" cy="897.5" r="1.35"/>
<circle cx="580" cy="915.5" r="1.35"/>
<circle cx="581" cy="869.0" r="1.35"/>
<circle cx="581" cy="879.5" r="1.35"/>
<circle cx="581" cy="887.0" r="1.35"/>
<circle cx="581" cy="897.5" r="1.35"/>
<circle cx="581" cy="915.5" r="1.35"/>
<circle cx="582" cy="874.0" r="1.35"/>
<circle cx="582" cy="887.0" r="1.35"/>
<circle cx="582" cy="897.5" r="1.35"/>
<circle cx="582" cy="915.5" r="1.35"/>
<circle cx="583" cy="879.5" r="1.35"/>
<circle cx="583" cy="887.0" r="1.35"/>
<circle cx="583" cy="915.5" r="1.35"/>
<circle cx="584" cy="869.0" r="1.35"/>
<circle cx="584" cy="879.5" r="1.35"/>
<circle cx="584" cy="887.0" r="1.35"/>
<circle cx="584" cy="897.5" r="1.35"/>
<circle cx="584" cy="915.5" r="1.35"/>
<circle cx="585" cy="874.0" r="1.35"/>
<circle cx="585" cy="879.5" r="1.35"/>
<circle cx="585" cy="887.0" r="1.35"/>
<circle cx="585" cy="897.5" r="1.35"/>
<circle cx="585" cy="915.5" r="1.35"/>
<circle cx="586" cy="879.5" r="1.35"/>
<circle cx="586" cy="887.0" r="1.35"/>
<circle cx="586" cy="897.5" r="1.35"/>
<circle cx="586" cy="915.5" r="1.35"/>
<circle cx="587" cy="869.0" r="1.35"/>
<circle cx="587" cy="879.5" r="1.35"/>
<circle cx="587" cy="887.0" r="1.35"/>
<circle cx="587" cy="897.5" r="1.35"/>
<circle cx="587" cy="915.5" r="1.35"/>
<circle cx="588" cy="869.0" r="1.35"/>
<circle cx="588" cy="879.5" r="1.35"/>
<circle cx="588" cy="887.0" r="1.35"/>
<circle cx="588" cy="897.5" r="1.35"/>
<circle cx="588" cy="915.5" r="1.35"/>
<circle cx="589" cy="874.0" r="1.35"/>
<circle cx="589" cy="879.5" r="1.35"/>
<circle cx="589" cy="887.0" r="1.35"/>
<circle cx="589" cy="897.5" r="1.35"/>
<circle cx="589" cy="915.5" r="1.35"/>
<circle cx="590" cy="874.0" r="1.35"/>
<circle cx="590" cy="879.5" r="1.35"/>
<circle cx="590" cy="887.0" r="1.35"/>
<circle cx="590" cy="897.5" r="1.35"/>
<circle cx="590" cy="915.5" r="1.35"/>
<circle cx="591" cy="865.5" r="1.35"/>
<circle cx="591" cy="879.5" r="1.35"/>
<circle cx="591" cy="887.0" r="1.35"/>
<circle cx="591" cy="897.5" r="1.35"/>
<circle cx="591" cy="915.5" r="1.35"/>
<circle cx="592" cy="887.0" r="1.35"/>
<circle cx="592" cy="897.5" r="1.35"/>
<circle cx="592" cy="915.5" r="1.35"/>
<circle cx="593" cy="874.0" r="1.35"/>
<circle cx="593" cy="879.5" r="1.35"/>
<circle cx="593" cy="897.5" r="1.35"/>
<circle cx="593" cy="915.5" r="1.35"/>
<circle cx="594" cy="879.5" r="1.35"/>
<circle cx="594" cy="887.0" r="1.35"/>
<circle cx="594" cy="897.5" r="1.35"/>
<circle cx="595" cy="874.0" r="1.35"/>
<circle cx="595" cy="879.5" r="1.35"/>
<circle cx="595" cy="887.0" r="1.35"/>
<circle cx="595" cy="897.5" r="1.35"/>
<circle cx="595" cy="915.5" r="1.35"/>
<circle cx="596" cy="874.0" r="1.35"/>
<circle cx="596" cy="879.5" r="1.35"/>
<circle cx="596" cy="887.0" r="1.35"/>
<circle cx="596" cy="897.5" r="1.35"/>
<circle cx="596" cy="915.5" r="1.35"/>
<circle cx="597" cy="874.0" r="1.35"/>
<circle cx="597" cy="887.0" r="1.35"/>
<circle cx="597" cy="897.5" r="1.35"/>
<circle cx="597" cy="915.5" r="1.35"/>
<circle cx="598" cy="869.0" r="1.35"/>
<circle cx="598" cy="887.0" r="1.35"/>
<circle cx="598" cy="897.5" r="1.35"/>
<circle cx="598" cy="915.5" r="1.35"/>
<circle cx="599" cy="874.0" r="1.35"/>
<circle cx="599" cy="879.5" r="1.35"/>
<circle cx="599" cy="887.0" r="1.35"/>
<circle cx="599" cy="897.5" r="1.35"/>
<circle cx="599" cy="915.5" r="1.35"/>
<circle cx="600" cy="879.5" r="1.35"/>
<circle cx="600" cy="887.0" r="1.35"/>
<circle cx="600" cy="897.5" r="1.35"/>
<circle cx="600" cy="915.5" r="1.35"/>
<circle cx="601" cy="887.0" r="1.35"/>
<circle cx="601" cy="897.5" r="1.35"/>
<circle cx="601" cy="915.5" r="1.35"/>
<circle cx="602" cy="869.0" r="1.35"/>
<circle cx="602" cy="874.0" r="1.35"/>
<circle cx="602" cy="879.5" r="1.35"/>
<circle cx="602" cy="887.0" r="1.35"/>
<circle cx="602" cy="897.5" r="1.35"/>
<circle cx="603" cy="879.5" r="1.35"/>
<circle cx="603" cy="897.5" r="1.35"/>
<circle cx="603" cy="915.5" r="1.35"/>
<circle cx="604" cy="874.0" r="1.35"/>
<circle cx="604" cy="879.5" r="1.35"/>
<circle cx="604" cy="887.0" r="1.35"/>
<circle cx="604" cy="897.5" r="1.35"/>
<circle cx="604" cy="915.5" r="1.35"/>
<circle cx="605" cy="874.0" r="1.35"/>
<circle cx="605" cy="879.5" r="1.35"/>
<circle cx="605" cy="887.0" r="1.35"/>
<circle cx="605" cy="897.5" r="1.35"/>
<circle cx="606" cy="879.5" r="1.35"/>
<circle cx="606" cy="887.0" r="1.35"/>
<circle cx="606" cy="897.5" r="1.35"/>
<circle cx="606" cy="915.5" r="1.35"/>
<circle cx="607" cy="879.5" r="1.35"/>
<circle cx="607" cy="887.0" r="1.35"/>
<circle cx="607" cy="897.5" r="1.35"/>
<circle cx="607" cy="915.5" r="1.35"/>
<circle cx="608" cy="897.5" r="1.35"/>
<circle cx="608" cy="915.5" r="1.35"/>
<circle cx="609" cy="879.5" r="1.35"/>
<circle cx="609" cy="887.0" r="1.35"/>
<circle cx="609" cy="897.5" r="1.35"/>
<circle cx="609" cy="915.5" r="1.35"/>
<circle cx="610" cy="874.0" r="1.35"/>
<circle cx="610" cy="887.0" r="1.35"/>
<circle cx="610" cy="897.5" r="1.35"/>
<circle cx="610" cy="915.5" r="1.35"/>
<circle cx="611" cy="865.5" r="1.35"/>
<circle cx="611" cy="874.0" r="1.35"/>
<circle cx="611" cy="887.0" r="1.35"/>
<circle cx="611" cy="897.5" r="1.35"/>
<circle cx="612" cy="887.0" r="1.35"/>
<circle cx="612" cy="897.5" r="1.35"/>
<circle cx="612" cy="915.5" r="1.35"/>
<circle cx="613" cy="869.0" r="1.35"/>
<circle cx="613" cy="874.0" r="1.35"/>
<circle cx="613" cy="879.5" r="1.35"/>
<circle cx="613" cy="887.0" r="1.35"/>
<circle cx="613" cy="897.5" r="1.35"/>
<circle cx="613" cy="915.5" r="1.35"/>
<circle cx="614" cy="859.0" r="1.35"/>
<circle cx="614" cy="874.0" r="1.35"/>
<circle cx="614" cy="887.0" r="1.35"/>
<circle cx="614" cy="897.5" r="1.35"/>
<circle cx="614" cy="915.5" r="1.35"/>
<circle cx="615" cy="879.5" r="1.35"/>
<circle cx="615" cy="887.0" r="1.35"/>
<circle cx="615" cy="897.5" r="1.35"/>
<circle cx="615" cy="915.5" r="1.35"/>
<circle cx="616" cy="879.5" r="1.35"/>
<circle cx="616" cy="887.0" r="1.35"/>
<circle cx="616" cy="897.5" r="1.35"/>
<circle cx="616" cy="915.5" r="1.35"/>
<circle cx="617" cy="874.0" r="1.35"/>
<circle cx="617" cy="879.5" r="1.35"/>
<circle cx="617" cy="887.0" r="1.35"/>
<circle cx="617" cy="897.5" r="1.35"/>
<circle cx="617" cy="915.5" r="1.35"/>
<circle cx="618" cy="879.5" r="1.35"/>
<circle cx="618" cy="887.0" r="1.35"/>
<circle cx="618" cy="897.5" r="1.35"/>
<circle cx="619" cy="869.0" r="1.35"/>
<circle cx="619" cy="874.0" r="1.35"/>
<circle cx="619" cy="879.5" r="1.35"/>
<circle cx="619" cy="887.0" r="1.35"/>
<circle cx="619" cy="897.5" r="1.35"/>
<circle cx="619" cy="915.5" r="1.35"/>
<circle cx="620" cy="865.5" r="1.35"/>
<circle cx="620" cy="879.5" r="1.35"/>
<circle cx="620" cy="897.5" r="1.35"/>
<circle cx="620" cy="915.5" r="1.35"/>
<circle cx="621" cy="879.5" r="1.35"/>
<circle cx="621" cy="887.0" r="1.35"/>
<circle cx="621" cy="897.5" r="1.35"/>
<circle cx="622" cy="887.0" r="1.35"/>
<circle cx="622" cy="897.5" r="1.35"/>
<circle cx="622" cy="915.5" r="1.35"/>
<circle cx="623" cy="887.0" r="1.35"/>
<circle cx="623" cy="897.5" r="1.35"/>
<circle cx="623" cy="915.5" r="1.35"/>
<circle cx="624" cy="887.0" r="1.35"/>
<circle cx="624" cy="897.5" r="1.35"/>
<circle cx="624" cy="915.5" r="1.35"/>
<circle cx="625" cy="887.0" r="1.35"/>
<circle cx="625" cy="897.5" r="1.35"/>
<circle cx="625" cy="915.5" r="1.35"/>
<circle cx="626" cy="874.0" r="1.35"/>
<circle cx="626" cy="887.0" r="1.35"/>
<circle cx="626" cy="897.5" r="1.35"/>
<circle cx="626" cy="915.5" r="1.35"/>
<circle cx="627" cy="887.0" r="1.35"/>
<circle cx="627" cy="897.5" r="1.35"/>
<circle cx="627" cy="915.5" r="1.35"/>
<circle cx="628" cy="879.5" r="1.35"/>
<circle cx="628" cy="887.0" r="1.35"/>
<circle cx="628" cy="897.5" r="1.35"/>
<circle cx="628" cy="915.5" r="1.35"/>
<circle cx="629" cy="879.5" r="1.35"/>
<circle cx="629" cy="887.0" r="1.35"/>
<circle cx="629" cy="897.5" r="1.35"/>
<circle cx="629" cy="915.5" r="1.35"/>
<circle cx="630" cy="874.0" r="1.35"/>
<circle cx="630" cy="879.5" r="1.35"/>
<circle cx="630" cy="887.0" r="1.35"/>
<circle cx="630" cy="897.5" r="1.35"/>
<circle cx="630" cy="915.5" r="1.35"/>
<circle cx="631" cy="879.5" r="1.35"/>
<circle cx="631" cy="887.0" r="1.35"/>
<circle cx="631" cy="897.5" r="1.35"/>
<circle cx="632" cy="869.0" r="1.35"/>
<circle cx="632" cy="887.0" r="1.35"/>
<circle cx="632" cy="897.5" r="1.35"/>
<circle cx="632" cy="915.5" r="1.35"/>
<circle cx="633" cy="879.5" r="1.35"/>
<circle cx="633" cy="887.0" r="1.35"/>
<circle cx="633" cy="897.5" r="1.35"/>
<circle cx="633" cy="915.5" r="1.35"/>
<circle cx="634" cy="887.0" r="1.35"/>
<circle cx="634" cy="897.5" r="1.35"/>
<circle cx="634" cy="915.5" r="1.35"/>
<circle cx="635" cy="869.0" r="1.35"/>
<circle cx="635" cy="874.0" r="1.35"/>
<circle cx="635" cy="879.5" r="1.35"/>
<circle cx="635" cy="887.0" r="1.35"/>
<circle cx="635" cy="897.5" r="1.35"/>
<circle cx="635" cy="915.5" r="1.35"/>
<circle cx="636" cy="874.0" r="1.35"/>
<circle cx="636" cy="887.0" r="1.35"/>
<circle cx="636" cy="915.5" r="1.35"/>
<circle cx="637" cy="879.5" r="1.35"/>
<circle cx="637" cy="887.0" r="1.35"/>
<circle cx="637" cy="897.5" r="1.35"/>
<circle cx="637" cy="915.5" r="1.35"/>
<circle cx="638" cy="874.0" r="1.35"/>
<circle cx="638" cy="887.0" r="1.35"/>
<circle cx="638" cy="897.5" r="1.35"/>
<circle cx="638" cy="915.5" r="1.35"/>
<circle cx="639" cy="879.5" r="1.35"/>
<circle cx="639" cy="887.0" r="1.35"/>
<circle cx="639" cy="897.5" r="1.35"/>
<circle cx="639" cy="915.5" r="1.35"/>
<circle cx="640" cy="887.0" r="1.35"/>
<circle cx="640" cy="915.5" r="1.35"/>
<circle cx="641" cy="869.0" r="1.35"/>
<circle cx="641" cy="879.5" r="1.35"/>
<circle cx="641" cy="897.5" r="1.35"/>
<circle cx="641" cy="915.5" r="1.35"/>
<circle cx="642" cy="869.0" r="1.35"/>
<circle cx="642" cy="874.0" r="1.35"/>
<circle cx="642" cy="879.5" r="1.35"/>
<circle cx="642" cy="887.0" r="1.35"/>
<circle cx="642" cy="897.5" r="1.35"/>
<circle cx="642" cy="915.5" r="1.35"/>
<circle cx="643" cy="874.0" r="1.35"/>
<circle cx="643" cy="887.0" r="1.35"/>
<circle cx="643" cy="897.5" r="1.35"/>
<circle cx="643" cy="915.5" r="1.35"/>
<circle cx="644" cy="869.0" r="1.35"/>
<circle cx="644" cy="879.5" r="1.35"/>
<circle cx="644" cy="887.0" r="1.35"/>
<circle cx="644" cy="897.5" r="1.35"/>
<circle cx="644" cy="915.5" r="1.35"/>
<circle cx="645" cy="879.5" r="1.35"/>
<circle cx="645" cy="887.0" r="1.35"/>
<circle cx="645" cy="897.5" r="1.35"/>
<circle cx="645" cy="915.5" r="1.35"/>
<circle cx="646" cy="874.0" r="1.35"/>
<circle cx="646" cy="879.5" r="1.35"/>
<circle cx="646" cy="887.0" r="1.35"/>
<circle cx="646" cy="897.5" r="1.35"/>
<circle cx="646" cy="915.5" r="1.35"/>
<circle cx="647" cy="879.5" r="1.35"/>
<circle cx="647" cy="897.5" r="1.35"/>
<circle cx="647" cy="915.5" r="1.35"/>
<circle cx="648" cy="879.5" r="1.35"/>
<circle cx="648" cy="887.0" r="1.35"/>
<circle cx="648" cy="897.5" r="1.35"/>
<circle cx="648" cy="915.5" r="1.35"/>
<circle cx="649" cy="874.0" r="1.35"/>
<circle cx="649" cy="887.0" r="1.35"/>
<circle cx="649" cy="897.5" r="1.35"/>
<circle cx="649" cy="915.5" r="1.35"/>
<circle cx="650" cy="869.0" r="1.35"/>
<circle cx="650" cy="874.0" r="1.35"/>
<circle cx="650" cy="897.5" r="1.35"/>
<circle cx="650" cy="915.5" r="1.35"/>
<circle cx="651" cy="887.0" r="1.35"/>
<circle cx="651" cy="915.5" r="1.35"/>
<circle cx="652" cy="869.0" r="1.35"/>
<circle cx="652" cy="874.0" r="1.35"/>
<circle cx="652" cy="879.5" r="1.35"/>
<circle cx="652" cy="897.5" r="1.35"/>
<circle cx="652" cy="915.5" r="1.35"/>
<circle cx="653" cy="879.5" r="1.35"/>
<circle cx="653" cy="887.0" r="1.35"/>
<circle cx="653" cy="897.5" r="1.35"/>
<circle cx="653" cy="915.5" r="1.35"/>
<circle cx="654" cy="879.5" r="1.35"/>
<circle cx="654" cy="887.0" r="1.35"/>
<circle cx="654" cy="897.5" r="1.35"/>
<circle cx="654" cy="915.5" r="1.35"/>
<circle cx="655" cy="879.5" r="1.35"/>
<circle cx="655" cy="887.0" r="1.35"/>
<circle cx="655" cy="897.5" r="1.35"/>
<circle cx="656" cy="865.5" r="1.35"/>
<circle cx="656" cy="887.0" r="1.35"/>
<circle cx="656" cy="897.5" r="1.35"/>
<circle cx="656" cy="915.5" r="1.35"/>
<circle cx="657" cy="874.0" r="1.35"/>
<circle cx="657" cy="887.0" r="1.35"/>
<circle cx="657" cy="897.5" r="1.35"/>
<circle cx="657" cy="915.5" r="1.35"/>
<circle cx="658" cy="874.0" r="1.35"/>
<circle cx="658" cy="879.5" r="1.35"/>
<circle cx="658" cy="887.0" r="1.35"/>
<circle cx="658" cy="897.5" r="1.35"/>
<circle cx="658" cy="915.5" r="1.35"/>
<circle cx="659" cy="869.0" r="1.35"/>
<circle cx="659" cy="879.5" r="1.35"/>
<circle cx="659" cy="887.0" r="1.35"/>
<circle cx="659" cy="897.5" r="1.35"/>
<circle cx="659" cy="915.5" r="1.35"/>
<circle cx="660" cy="869.0" r="1.35"/>
<circle cx="660" cy="879.5" r="1.35"/>
<circle cx="660" cy="887.0" r="1.35"/>
<circle cx="660" cy="897.5" r="1.35"/>
<circle cx="660" cy="915.5" r="1.35"/>
<circle cx="661" cy="874.0" r="1.35"/>
<circle cx="661" cy="879.5" r="1.35"/>
<circle cx="661" cy="887.0" r="1.35"/>
<circle cx="661" cy="897.5" r="1.35"/>
<circle cx="661" cy="915.5" r="1.35"/>
<circle cx="662" cy="879.5" r="1.35"/>
<circle cx="662" cy="887.0" r="1.35"/>
<circle cx="662" cy="897.5" r="1.35"/>
<circle cx="662" cy="915.5" r="1.35"/>
<circle cx="663" cy="879.5" r="1.35"/>
<circle cx="663" cy="887.0" r="1.35"/>
<circle cx="663" cy="897.5" r="1.35"/>
<circle cx="663" cy="915.5" r="1.35"/>
<circle cx="664" cy="874.0" r="1.35"/>
<circle cx="664" cy="879.5" r="1.35"/>
<circle cx="664" cy="887.0" r="1.35"/>
<circle cx="664" cy="897.5" r="1.35"/>
<circle cx="664" cy="915.5" r="1.35"/>
<circle cx="665" cy="869.0" r="1.35"/>
<circle cx="665" cy="874.0" r="1.35"/>
<circle cx="665" cy="887.0" r="1.35"/>
<circle cx="665" cy="897.5" r="1.35"/>
<circle cx="665" cy="915.5" r="1.35"/>
<circle cx="666" cy="874.0" r="1.35"/>
<circle cx="666" cy="879.5" r="1.35"/>
<circle cx="666" cy="887.0" r="1.35"/>
<circle cx="666" cy="897.5" r="1.35"/>
<circle cx="667" cy="865.5" r="1.35"/>
<circle cx="667" cy="879.5" r="1.35"/>
<circle cx="667" cy="887.0" r="1.35"/>
<circle cx="667" cy="897.5" r="1.35"/>
<circle cx="667" cy="915.5" r="1.35"/>
<circle cx="668" cy="865.5" r="1.35"/>
<circle cx="668" cy="869.0" r="1.35"/>
<circle cx="668" cy="887.0" r="1.35"/>
<circle cx="668" cy="897.5" r="1.35"/>
<circle cx="669" cy="887.0" r="1.35"/>
<circle cx="669" cy="897.5" r="1.35"/>
<circle cx="669" cy="915.5" r="1.35"/>
<circle cx="670" cy="869.0" r="1.35"/>
<circle cx="670" cy="874.0" r="1.35"/>
<circle cx="670" cy="879.5" r="1.35"/>
<circle cx="670" cy="887.0" r="1.35"/>
<circle cx="670" cy="897.5" r="1.35"/>
<circle cx="671" cy="856.0" r="1.35"/>
<circle cx="671" cy="879.5" r="1.35"/>
<circle cx="671" cy="897.5" r="1.35"/>
<circle cx="671" cy="915.5" r="1.35"/>
<circle cx="672" cy="887.0" r="1.35"/>
<circle cx="672" cy="897.5" r="1.35"/>
<circle cx="672" cy="915.5" r="1.35"/>
<circle cx="673" cy="865.5" r="1.35"/>
<circle cx="673" cy="874.0" r="1.35"/>
<circle cx="673" cy="879.5" r="1.35"/>
<circle cx="673" cy="897.5" r="1.35"/>
<circle cx="673" cy="915.5" r="1.35"/>
<circle cx="674" cy="874.0" r="1.35"/>
<circle cx="674" cy="879.5" r="1.35"/>
<circle cx="674" cy="887.0" r="1.35"/>
<circle cx="674" cy="897.5" r="1.35"/>
<circle cx="674" cy="915.5" r="1.35"/>
<circle cx="675" cy="874.0" r="1.35"/>
<circle cx="675" cy="879.5" r="1.35"/>
<circle cx="675" cy="897.5" r="1.35"/>
<circle cx="675" cy="915.5" r="1.35"/>
<circle cx="676" cy="869.0" r="1.35"/>
<circle cx="676" cy="874.0" r="1.35"/>
<circle cx="676" cy="879.5" r="1.35"/>
<circle cx="676" cy="887.0" r="1.35"/>
<circle cx="676" cy="897.5" r="1.35"/>
</g>
<path d="M411.90,693.85 L411.92,695.93 L411.95,698.14 L411.98,700.47 L412.02,702.92 L412.05,705.49 L412.09,708.19 L412.13,711.01 L412.18,713.94 L412.22,716.98 L412.27,720.11 L412.32,723.31 L412.38,726.55 L412.44,729.82 L412.51,733.08 L412.57,736.29 L412.65,739.41 L412.73,742.41 L412.81,745.25 L412.90,747.91 L413.00,750.37 L413.10,752.63 L413.21,754.72 L413.33,756.64 L413.45,758.43 L413.59,760.13 L413.73,761.76 L413.88,763.37 L414.04,764.99 L414.22,766.62 L414.41,768.31 L414.60,770.06 L414.82,771.87 L415.04,773.76 L415.29,775.73 L415.55,777.79 L415.83,779.92 L416.12,782.12 L416.44,784.39 L416.78,786.73 L417.14,789.11 L417.53,791.53 L417.94,793.98 L418.38,796.43 L418.85,798.88 L419.36,801.31 L419.89,803.71 L420.47,806.07 L421.08,808.37 L421.74,810.62 L422.44,812.82 L423.19,814.97 L423.99,817.09 L424.85,819.20 L425.77,821.30 L426.74,823.44 L427.79,825.61 L428.91,827.86 L430.10,830.19 L431.38,832.62 L433.47,836.54 L435.57,840.38 L437.66,844.15 L439.76,847.85 L441.86,851.48 L443.95,855.04 L446.05,858.51 L448.15,861.88 L450.24,865.16 L452.34,868.32 L454.44,871.35 L456.53,874.25 L458.63,877.01 L460.73,879.62 L462.82,882.07 L464.92,884.36 L467.02,886.48 L469.11,888.44 L471.21,890.23 L473.31,891.86 L475.40,893.34 L477.50,894.67 L479.59,895.86 L481.69,896.92 L483.79,897.85 L485.88,898.68 L487.98,899.40 L490.08,900.03 L492.17,900.59 L494.27,901.07 L496.37,901.48 L498.46,901.84 L500.56,902.15 L502.66,902.42 L504.75,902.65 L506.85,902.84 L508.95,903.01 L511.04,903.16 L513.14,903.28 L515.24,903.39 L517.33,903.48 L519.43,903.56 L521.53,903.62 L523.62,903.68 L525.72,903.73 L527.81,903.77 L529.91,903.80 L532.01,903.83 L534.10,903.86 L536.20,903.88 L538.30,903.90 L540.39,903.92 L542.49,903.93 L544.59,903.94 L546.68,903.95 L548.78,903.96 L550.88,903.97 L552.97,903.97 L555.07,903.98 L557.17,903.98 L559.26,903.99 L561.36,903.99 L563.46,903.99 L565.55,903.99 L567.65,904.00 L569.75,904.00 L571.84,904.00 L573.94,904.00 L576.03,904.00 L578.13,904.00 L580.23,904.00 L582.32,904.00 L584.42,904.00 L586.52,904.00 L588.61,904.00 L590.71,904.00 L592.81,904.00 L594.90,904.01 L597.00,904.01" fill="none" stroke="#4a4a4a" stroke-width="1.8" stroke-linejoin="round" stroke-linecap="round" />
<rect x="408.50" y="670.10" width="273.50" height="250.90" fill="none" stroke="#000" stroke-width="1.3"/>
<line x1="404.30" y1="678.50" x2="408.50" y2="678.50" stroke="#000" stroke-width="1.3"/>
<text x="400.70" y="683.60" font-size="15" text-anchor="end" fill="#000" >10k</text>
<line x1="404.30" y1="737.70" x2="408.50" y2="737.70" stroke="#000" stroke-width="1.3"/>
<text x="400.70" y="742.80" font-size="15" text-anchor="end" fill="#000" >1k</text>
<line x1="404.30" y1="796.90" x2="408.50" y2="796.90" stroke="#000" stroke-width="1.3"/>
<text x="400.70" y="802.00" font-size="15" text-anchor="end" fill="#000" >100</text>
<line x1="404.30" y1="856.10" x2="408.50" y2="856.10" stroke="#000" stroke-width="1.3"/>
<text x="400.70" y="861.20" font-size="15" text-anchor="end" fill="#000" >10</text>
<line x1="404.30" y1="915.30" x2="408.50" y2="915.30" stroke="#000" stroke-width="1.3"/>
<text x="400.70" y="920.40" font-size="15" text-anchor="end" fill="#000" >1</text>
<line x1="411.50" y1="921.00" x2="411.50" y2="925.00" stroke="#000" stroke-width="1.3"/>
<text x="411.50" y="940.90" font-size="15" text-anchor="middle" fill="#000" >0</text>
<line x1="477.75" y1="921.00" x2="477.75" y2="925.00" stroke="#000" stroke-width="1.3"/>
<text x="477.75" y="940.90" font-size="15" text-anchor="middle" fill="#000" >1</text>
<line x1="544.00" y1="921.00" x2="544.00" y2="925.00" stroke="#000" stroke-width="1.3"/>
<text x="544.00" y="940.90" font-size="15" text-anchor="middle" fill="#000" >2</text>
<line x1="610.25" y1="921.00" x2="610.25" y2="925.00" stroke="#000" stroke-width="1.3"/>
<text x="610.25" y="940.90" font-size="15" text-anchor="middle" fill="#000" >3</text>
<line x1="676.50" y1="921.00" x2="676.50" y2="925.00" stroke="#000" stroke-width="1.3"/>
<text x="676.50" y="940.90" font-size="15" text-anchor="middle" fill="#000" >4</text>
<line x1="444.62" y1="921.00" x2="444.62" y2="923.20" stroke="#000" stroke-width="1.3"/>
<line x1="510.88" y1="921.00" x2="510.88" y2="923.20" stroke="#000" stroke-width="1.3"/>
<line x1="577.12" y1="921.00" x2="577.12" y2="923.20" stroke="#000" stroke-width="1.3"/>
<line x1="643.38" y1="921.00" x2="643.38" y2="923.20" stroke="#000" stroke-width="1.3"/>
<text transform="translate(361.30,783.00) rotate(-90)" font-size="18.5" text-anchor="middle" fill="#000">Counts</text>
<text x="545.20" y="967.40" font-size="18.8" text-anchor="middle" fill="#000" >Lifetime (s)</text>
<circle cx="611.6" cy="685.5" r="1.35" fill="#ff78c8" stroke="#ff3fb0" stroke-width="0.8"/>
<text x="632.40" y="690.10" font-size="14.8" text-anchor="start" fill="#000" >Decay</text>
<line x1="599.80" y1="703.40" x2="623.90" y2="703.40" stroke="#4a4a4a" stroke-width="1.8"/>
<text x="632.40" y="708.40" font-size="14.6" text-anchor="start" fill="#000" >Fitting</text>
<text x="675.80" y="733.00" font-size="14.6" text-anchor="end" fill="#000" ><tspan font-family="Liberation Serif" font-size="16">&#964;</tspan>=167.7 ms</text>
</svg>
</body></html>
